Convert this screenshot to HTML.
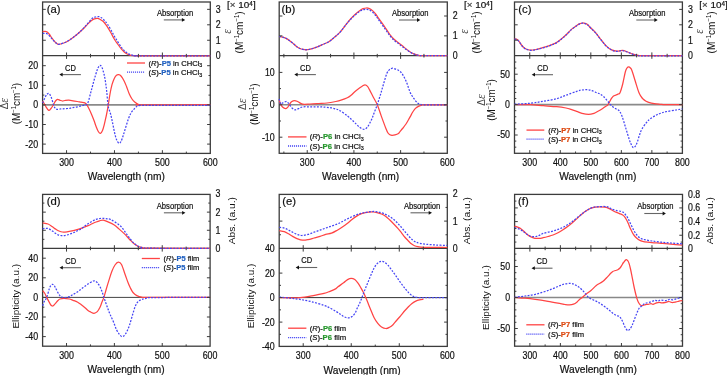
<!DOCTYPE html>
<html><head><meta charset="utf-8"><style>
html,body{margin:0;padding:0;background:#fff;}
svg{display:block;font-family:"Liberation Sans", sans-serif;will-change:transform;} text{stroke-width:0.2px;}
</style></head><body>
<svg width="727" height="375" viewBox="0 0 727 375">
<line x1="42.60" y1="104.90" x2="210.30" y2="104.90" stroke="#8a8a8a" stroke-width="1.60"/>
<rect x="42.60" y="2.00" width="167.70" height="151.40" fill="none" stroke="#3c3c3c" stroke-width="1.3"/>
<line x1="42.60" y1="55.70" x2="210.30" y2="55.70" stroke="#3c3c3c" stroke-width="1.3"/>
<path d="M42.70,31.70 C43.08,31.63 44.25,31.23 45.00,31.30 C45.75,31.37 46.45,31.57 47.20,32.10 C47.95,32.63 48.70,33.48 49.50,34.50 C50.30,35.52 51.17,37.07 52.00,38.20 C52.83,39.33 53.75,40.47 54.50,41.30 C55.25,42.13 55.80,42.68 56.50,43.20 C57.20,43.72 57.17,44.57 58.70,44.40 C60.23,44.23 63.65,43.10 65.70,42.20 C67.75,41.30 69.23,40.18 71.00,39.00 C72.77,37.82 74.52,36.55 76.30,35.10 C78.08,33.65 79.92,32.00 81.70,30.30 C83.48,28.60 85.42,26.50 87.00,24.90 C88.58,23.30 89.97,21.72 91.20,20.70 C92.43,19.68 93.33,19.20 94.40,18.80 C95.47,18.40 96.58,18.17 97.60,18.30 C98.62,18.43 99.65,19.15 100.50,19.60 C101.35,20.05 101.95,20.35 102.70,21.00 C103.45,21.65 104.22,22.52 105.00,23.50 C105.78,24.48 106.42,25.35 107.40,26.90 C108.38,28.45 109.73,30.75 110.90,32.80 C112.07,34.85 113.22,37.25 114.40,39.20 C115.58,41.15 116.82,42.83 118.00,44.50 C119.18,46.17 120.50,47.98 121.50,49.20 C122.50,50.42 123.22,51.08 124.00,51.80 C124.78,52.52 125.45,53.03 126.20,53.50 C126.95,53.97 127.72,54.30 128.50,54.60 C129.28,54.90 129.72,55.10 130.90,55.30 C132.08,55.50 134.08,55.72 135.60,55.80 C137.12,55.88 127.55,55.80 140.00,55.80 C152.45,55.80 198.58,55.80 210.30,55.80" fill="none" stroke="#ff4444" stroke-width="1.25" stroke-linejoin="round"/>
<path d="M42.70,33.50 C43.08,33.47 44.20,33.22 45.00,33.30 C45.80,33.38 46.67,33.47 47.50,34.00 C48.33,34.53 49.25,35.70 50.00,36.50 C50.75,37.30 51.25,37.95 52.00,38.80 C52.75,39.65 53.75,40.85 54.50,41.60 C55.25,42.35 55.80,42.83 56.50,43.30 C57.20,43.77 57.17,44.58 58.70,44.40 C60.23,44.22 63.65,43.10 65.70,42.20 C67.75,41.30 69.23,40.18 71.00,39.00 C72.77,37.82 74.52,36.58 76.30,35.10 C78.08,33.62 79.92,31.90 81.70,30.10 C83.48,28.30 85.23,26.27 87.00,24.30 C88.77,22.33 90.88,19.52 92.30,18.30 C93.72,17.08 94.43,17.28 95.50,17.00 C96.57,16.72 97.78,16.52 98.70,16.60 C99.62,16.68 100.33,17.15 101.00,17.50 C101.67,17.85 102.03,18.12 102.70,18.70 C103.37,19.28 104.22,20.12 105.00,21.00 C105.78,21.88 106.42,22.53 107.40,24.00 C108.38,25.47 109.73,27.75 110.90,29.80 C112.07,31.85 113.22,34.23 114.40,36.30 C115.58,38.37 116.82,40.33 118.00,42.20 C119.18,44.07 120.50,46.13 121.50,47.50 C122.50,48.87 123.22,49.60 124.00,50.40 C124.78,51.20 125.45,51.73 126.20,52.30 C126.95,52.87 127.72,53.38 128.50,53.80 C129.28,54.22 129.72,54.47 130.90,54.80 C132.08,55.13 134.08,55.63 135.60,55.80 C137.12,55.97 127.55,55.80 140.00,55.80 C152.45,55.80 198.58,55.80 210.30,55.80" fill="none" stroke="#4444f4" stroke-width="1.25" stroke-dasharray="1.9 1.4" stroke-linejoin="round"/>
<path d="M42.70,101.00 C43.17,101.83 44.50,104.43 45.50,106.00 C46.50,107.57 47.78,109.98 48.70,110.40 C49.62,110.82 50.23,109.42 51.00,108.50 C51.77,107.58 52.55,106.15 53.30,104.90 C54.05,103.65 54.78,101.92 55.50,101.00 C56.22,100.08 56.85,99.52 57.60,99.40 C58.35,99.28 59.20,100.03 60.00,100.30 C60.80,100.57 61.57,100.97 62.40,101.00 C63.23,101.03 63.93,100.63 65.00,100.50 C66.07,100.37 67.47,100.15 68.80,100.20 C70.13,100.25 71.58,100.58 73.00,100.80 C74.42,101.02 75.97,101.27 77.30,101.50 C78.63,101.73 79.75,101.97 81.00,102.20 C82.25,102.43 83.82,102.45 84.80,102.90 C85.78,103.35 86.20,103.92 86.90,104.90 C87.60,105.88 88.20,107.17 89.00,108.80 C89.80,110.43 90.87,112.75 91.70,114.70 C92.53,116.65 93.27,118.55 94.00,120.50 C94.73,122.45 95.38,124.57 96.10,126.40 C96.82,128.23 97.57,130.33 98.30,131.50 C99.03,132.67 99.80,133.57 100.50,133.40 C101.20,133.23 101.88,131.92 102.50,130.50 C103.12,129.08 103.62,127.15 104.20,124.90 C104.78,122.65 105.52,119.20 106.00,117.00 C106.48,114.80 106.72,113.72 107.10,111.70 C107.48,109.68 107.82,107.85 108.30,104.90 C108.78,101.95 109.38,97.37 110.00,94.00 C110.62,90.63 111.25,87.37 112.00,84.70 C112.75,82.03 113.75,79.58 114.50,78.00 C115.25,76.42 115.80,75.75 116.50,75.20 C117.20,74.65 117.95,74.57 118.70,74.70 C119.45,74.83 120.12,75.00 121.00,76.00 C121.88,77.00 123.08,78.95 124.00,80.70 C124.92,82.45 125.62,84.28 126.50,86.50 C127.38,88.72 128.38,91.92 129.30,94.00 C130.22,96.08 131.10,97.67 132.00,99.00 C132.90,100.33 133.58,101.07 134.70,102.00 C135.82,102.93 137.48,104.12 138.70,104.60 C139.92,105.08 130.07,104.90 142.00,104.90 C153.93,104.90 198.92,104.65 210.30,104.60" fill="none" stroke="#ff4444" stroke-width="1.25" stroke-linejoin="round"/>
<path d="M42.70,103.10 C43.08,102.17 44.28,98.98 45.00,97.50 C45.72,96.02 46.32,94.87 47.00,94.20 C47.68,93.53 48.38,92.95 49.10,93.50 C49.82,94.05 50.55,95.60 51.30,97.50 C52.05,99.40 52.93,103.07 53.60,104.90 C54.27,106.73 54.73,107.77 55.30,108.50 C55.87,109.23 56.22,109.22 57.00,109.30 C57.78,109.38 59.00,109.08 60.00,109.00 C61.00,108.92 61.72,108.88 63.00,108.80 C64.28,108.72 66.20,108.67 67.70,108.50 C69.20,108.33 70.40,108.07 72.00,107.80 C73.60,107.53 75.53,107.28 77.30,106.90 C79.07,106.52 81.18,105.83 82.60,105.50 C84.02,105.17 84.90,105.38 85.80,104.90 C86.70,104.42 87.18,104.63 88.00,102.60 C88.82,100.57 89.95,95.47 90.70,92.70 C91.45,89.93 91.83,88.45 92.50,86.00 C93.17,83.55 93.95,80.58 94.70,78.00 C95.45,75.42 96.37,72.33 97.00,70.50 C97.63,68.67 98.00,67.87 98.50,67.00 C99.00,66.13 99.45,65.30 100.00,65.30 C100.55,65.30 101.13,65.55 101.80,67.00 C102.47,68.45 103.38,71.50 104.00,74.00 C104.62,76.50 105.05,79.12 105.50,82.00 C105.95,84.88 106.28,87.48 106.70,91.30 C107.12,95.12 107.57,101.78 108.00,104.90 C108.43,108.02 108.83,108.37 109.30,110.00 C109.77,111.63 110.27,112.62 110.80,114.70 C111.33,116.78 111.88,119.57 112.50,122.50 C113.12,125.43 113.83,129.47 114.50,132.30 C115.17,135.13 115.77,137.67 116.50,139.50 C117.23,141.33 118.15,142.97 118.90,143.30 C119.65,143.63 120.27,142.85 121.00,141.50 C121.73,140.15 122.50,137.62 123.30,135.20 C124.10,132.78 124.95,129.70 125.80,127.00 C126.65,124.30 127.53,121.33 128.40,119.00 C129.27,116.67 130.02,114.70 131.00,113.00 C131.98,111.30 133.30,109.92 134.30,108.80 C135.30,107.68 136.05,106.88 137.00,106.30 C137.95,105.72 138.67,105.47 140.00,105.30 C141.33,105.13 133.28,105.30 145.00,105.30 C156.72,105.30 199.42,105.30 210.30,105.30" fill="none" stroke="#4444f4" stroke-width="1.25" stroke-dasharray="1.9 1.4" stroke-linejoin="round"/>
<line x1="66.56" y1="153.40" x2="66.56" y2="150.20" stroke="#3c3c3c" stroke-width="1.00"/>
<line x1="66.56" y1="55.70" x2="66.56" y2="52.50" stroke="#3c3c3c" stroke-width="1.00"/>
<line x1="66.56" y1="55.70" x2="66.56" y2="58.90" stroke="#3c3c3c" stroke-width="1.00"/>
<line x1="90.51" y1="153.40" x2="90.51" y2="151.60" stroke="#3c3c3c" stroke-width="1.00"/>
<line x1="90.51" y1="55.70" x2="90.51" y2="53.90" stroke="#3c3c3c" stroke-width="1.00"/>
<line x1="90.51" y1="55.70" x2="90.51" y2="57.50" stroke="#3c3c3c" stroke-width="1.00"/>
<line x1="114.47" y1="153.40" x2="114.47" y2="150.20" stroke="#3c3c3c" stroke-width="1.00"/>
<line x1="114.47" y1="55.70" x2="114.47" y2="52.50" stroke="#3c3c3c" stroke-width="1.00"/>
<line x1="114.47" y1="55.70" x2="114.47" y2="58.90" stroke="#3c3c3c" stroke-width="1.00"/>
<line x1="138.43" y1="153.40" x2="138.43" y2="151.60" stroke="#3c3c3c" stroke-width="1.00"/>
<line x1="138.43" y1="55.70" x2="138.43" y2="53.90" stroke="#3c3c3c" stroke-width="1.00"/>
<line x1="138.43" y1="55.70" x2="138.43" y2="57.50" stroke="#3c3c3c" stroke-width="1.00"/>
<line x1="162.39" y1="153.40" x2="162.39" y2="150.20" stroke="#3c3c3c" stroke-width="1.00"/>
<line x1="162.39" y1="55.70" x2="162.39" y2="52.50" stroke="#3c3c3c" stroke-width="1.00"/>
<line x1="162.39" y1="55.70" x2="162.39" y2="58.90" stroke="#3c3c3c" stroke-width="1.00"/>
<line x1="186.34" y1="153.40" x2="186.34" y2="151.60" stroke="#3c3c3c" stroke-width="1.00"/>
<line x1="186.34" y1="55.70" x2="186.34" y2="53.90" stroke="#3c3c3c" stroke-width="1.00"/>
<line x1="186.34" y1="55.70" x2="186.34" y2="57.50" stroke="#3c3c3c" stroke-width="1.00"/>
<text x="66.56" y="165.90" font-size="10.00" text-anchor="middle" fill="#111" stroke="#111" textLength="14.80" lengthAdjust="spacingAndGlyphs" >300</text>
<text x="114.47" y="165.90" font-size="10.00" text-anchor="middle" fill="#111" stroke="#111" textLength="14.80" lengthAdjust="spacingAndGlyphs" >400</text>
<text x="162.39" y="165.90" font-size="10.00" text-anchor="middle" fill="#111" stroke="#111" textLength="14.80" lengthAdjust="spacingAndGlyphs" >500</text>
<text x="210.30" y="165.90" font-size="10.00" text-anchor="middle" fill="#111" stroke="#111" textLength="14.80" lengthAdjust="spacingAndGlyphs" >600</text>
<line x1="42.60" y1="40.25" x2="45.80" y2="40.25" stroke="#3c3c3c" stroke-width="1.00"/>
<line x1="210.30" y1="40.25" x2="207.10" y2="40.25" stroke="#3c3c3c" stroke-width="1.00"/>
<line x1="42.60" y1="24.80" x2="45.80" y2="24.80" stroke="#3c3c3c" stroke-width="1.00"/>
<line x1="210.30" y1="24.80" x2="207.10" y2="24.80" stroke="#3c3c3c" stroke-width="1.00"/>
<line x1="42.60" y1="9.35" x2="45.80" y2="9.35" stroke="#3c3c3c" stroke-width="1.00"/>
<line x1="210.30" y1="9.35" x2="207.10" y2="9.35" stroke="#3c3c3c" stroke-width="1.00"/>
<text x="215.80" y="59.10" font-size="10.00" text-anchor="start" fill="#111" stroke="#111" textLength="4.90" lengthAdjust="spacingAndGlyphs" >0</text>
<text x="215.80" y="43.65" font-size="10.00" text-anchor="start" fill="#111" stroke="#111" textLength="4.90" lengthAdjust="spacingAndGlyphs" >1</text>
<text x="215.80" y="28.20" font-size="10.00" text-anchor="start" fill="#111" stroke="#111" textLength="4.90" lengthAdjust="spacingAndGlyphs" >2</text>
<text x="215.80" y="12.75" font-size="10.00" text-anchor="start" fill="#111" stroke="#111" textLength="4.90" lengthAdjust="spacingAndGlyphs" >3</text>
<line x1="42.60" y1="144.10" x2="45.80" y2="144.10" stroke="#3c3c3c" stroke-width="1.00"/>
<line x1="210.30" y1="144.10" x2="207.10" y2="144.10" stroke="#3c3c3c" stroke-width="1.00"/>
<line x1="42.60" y1="134.30" x2="44.40" y2="134.30" stroke="#3c3c3c" stroke-width="1.00"/>
<line x1="210.30" y1="134.30" x2="208.50" y2="134.30" stroke="#3c3c3c" stroke-width="1.00"/>
<line x1="42.60" y1="124.50" x2="45.80" y2="124.50" stroke="#3c3c3c" stroke-width="1.00"/>
<line x1="210.30" y1="124.50" x2="207.10" y2="124.50" stroke="#3c3c3c" stroke-width="1.00"/>
<line x1="42.60" y1="114.70" x2="44.40" y2="114.70" stroke="#3c3c3c" stroke-width="1.00"/>
<line x1="210.30" y1="114.70" x2="208.50" y2="114.70" stroke="#3c3c3c" stroke-width="1.00"/>
<line x1="42.60" y1="104.90" x2="45.80" y2="104.90" stroke="#3c3c3c" stroke-width="1.00"/>
<line x1="210.30" y1="104.90" x2="207.10" y2="104.90" stroke="#3c3c3c" stroke-width="1.00"/>
<line x1="42.60" y1="95.10" x2="44.40" y2="95.10" stroke="#3c3c3c" stroke-width="1.00"/>
<line x1="210.30" y1="95.10" x2="208.50" y2="95.10" stroke="#3c3c3c" stroke-width="1.00"/>
<line x1="42.60" y1="85.30" x2="45.80" y2="85.30" stroke="#3c3c3c" stroke-width="1.00"/>
<line x1="210.30" y1="85.30" x2="207.10" y2="85.30" stroke="#3c3c3c" stroke-width="1.00"/>
<line x1="42.60" y1="75.50" x2="44.40" y2="75.50" stroke="#3c3c3c" stroke-width="1.00"/>
<line x1="210.30" y1="75.50" x2="208.50" y2="75.50" stroke="#3c3c3c" stroke-width="1.00"/>
<line x1="42.60" y1="65.70" x2="45.80" y2="65.70" stroke="#3c3c3c" stroke-width="1.00"/>
<line x1="210.30" y1="65.70" x2="207.10" y2="65.70" stroke="#3c3c3c" stroke-width="1.00"/>
<text x="38.10" y="147.50" font-size="10.00" text-anchor="end" fill="#111" stroke="#111" textLength="12.80" lengthAdjust="spacingAndGlyphs" >-20</text>
<text x="38.10" y="127.90" font-size="10.00" text-anchor="end" fill="#111" stroke="#111" textLength="12.80" lengthAdjust="spacingAndGlyphs" >-10</text>
<text x="38.10" y="108.30" font-size="10.00" text-anchor="end" fill="#111" stroke="#111" textLength="4.90" lengthAdjust="spacingAndGlyphs" >0</text>
<text x="38.10" y="88.70" font-size="10.00" text-anchor="end" fill="#111" stroke="#111" textLength="9.80" lengthAdjust="spacingAndGlyphs" >10</text>
<text x="38.10" y="69.10" font-size="10.00" text-anchor="end" fill="#111" stroke="#111" textLength="9.80" lengthAdjust="spacingAndGlyphs" >20</text>
<text x="126.25" y="179.60" font-size="10.00" text-anchor="middle" fill="#111" stroke="#111" textLength="77.20" lengthAdjust="spacingAndGlyphs" >Wavelength (nm)</text>
<line x1="279.20" y1="104.80" x2="447.30" y2="104.80" stroke="#8a8a8a" stroke-width="1.60"/>
<rect x="279.20" y="2.00" width="168.10" height="151.30" fill="none" stroke="#3c3c3c" stroke-width="1.3"/>
<line x1="279.20" y1="55.70" x2="447.30" y2="55.70" stroke="#3c3c3c" stroke-width="1.3"/>
<path d="M279.20,36.50 C280.27,36.77 283.47,37.10 285.60,38.10 C287.73,39.10 289.87,40.88 292.00,42.50 C294.13,44.12 296.27,46.60 298.40,47.80 C300.53,49.00 302.87,49.47 304.80,49.70 C306.73,49.93 308.13,49.60 310.00,49.20 C311.87,48.80 314.00,48.03 316.00,47.30 C318.00,46.57 319.85,45.73 322.00,44.80 C324.15,43.87 326.90,42.90 328.90,41.70 C330.90,40.50 332.13,39.20 334.00,37.60 C335.87,36.00 338.27,34.07 340.10,32.10 C341.93,30.13 343.40,27.82 345.00,25.80 C346.60,23.78 348.12,21.80 349.70,20.00 C351.28,18.20 352.90,16.52 354.50,15.00 C356.10,13.48 357.88,11.95 359.30,10.90 C360.72,9.85 361.82,9.18 363.00,8.70 C364.18,8.22 365.32,8.02 366.40,8.00 C367.48,7.98 368.43,8.12 369.50,8.60 C370.57,9.08 371.72,9.92 372.80,10.90 C373.88,11.88 374.93,13.12 376.00,14.50 C377.07,15.88 377.70,17.07 379.20,19.20 C380.70,21.33 383.25,24.78 385.00,27.30 C386.75,29.82 388.15,32.27 389.70,34.30 C391.25,36.33 392.75,38.02 394.30,39.50 C395.85,40.98 397.43,41.95 399.00,43.20 C400.57,44.45 402.13,45.75 403.70,47.00 C405.27,48.25 406.85,49.62 408.40,50.70 C409.95,51.78 411.45,52.77 413.00,53.50 C414.55,54.23 416.13,54.73 417.70,55.10 C419.27,55.47 417.47,55.60 422.40,55.70 C427.33,55.80 443.15,55.70 447.30,55.70" fill="none" stroke="#ff4444" stroke-width="1.25" stroke-linejoin="round"/>
<path d="M279.20,36.50 C280.27,36.77 283.47,37.10 285.60,38.10 C287.73,39.10 289.87,40.88 292.00,42.50 C294.13,44.12 296.27,46.60 298.40,47.80 C300.53,49.00 302.87,49.47 304.80,49.70 C306.73,49.93 308.13,49.60 310.00,49.20 C311.87,48.80 314.00,48.03 316.00,47.30 C318.00,46.57 319.85,45.73 322.00,44.80 C324.15,43.87 326.90,42.90 328.90,41.70 C330.90,40.50 332.13,39.20 334.00,37.60 C335.87,36.00 338.27,34.07 340.10,32.10 C341.93,30.13 343.40,27.77 345.00,25.80 C346.60,23.83 348.12,22.02 349.70,20.30 C351.28,18.58 352.90,16.93 354.50,15.50 C356.10,14.07 357.88,12.65 359.30,11.70 C360.72,10.75 361.82,10.20 363.00,9.80 C364.18,9.40 365.32,9.27 366.40,9.30 C367.48,9.33 368.43,9.50 369.50,10.00 C370.57,10.50 371.72,11.30 372.80,12.30 C373.88,13.30 374.93,14.60 376.00,16.00 C377.07,17.40 377.70,18.57 379.20,20.70 C380.70,22.83 383.25,26.33 385.00,28.80 C386.75,31.27 388.15,33.55 389.70,35.50 C391.25,37.45 392.75,39.08 394.30,40.50 C395.85,41.92 397.43,42.82 399.00,44.00 C400.57,45.18 402.13,46.43 403.70,47.60 C405.27,48.77 406.85,49.98 408.40,51.00 C409.95,52.02 411.45,53.00 413.00,53.70 C414.55,54.40 416.13,54.87 417.70,55.20 C419.27,55.53 417.47,55.62 422.40,55.70 C427.33,55.78 443.15,55.70 447.30,55.70" fill="none" stroke="#4444f4" stroke-width="1.25" stroke-dasharray="1.9 1.4" stroke-linejoin="round"/>
<path d="M279.20,100.00 C279.43,100.67 280.05,102.83 280.60,104.00 C281.15,105.17 281.67,106.22 282.50,107.00 C283.33,107.78 284.77,108.62 285.60,108.70 C286.43,108.78 286.88,108.17 287.50,107.50 C288.12,106.83 288.63,105.65 289.30,104.70 C289.97,103.75 290.60,102.50 291.50,101.80 C292.40,101.10 293.62,100.50 294.70,100.50 C295.78,100.50 296.67,101.18 298.00,101.80 C299.33,102.42 300.70,103.83 302.70,104.20 C304.70,104.57 307.33,104.12 310.00,104.00 C312.67,103.88 315.87,103.67 318.70,103.50 C321.53,103.33 324.15,103.33 327.00,103.00 C329.85,102.67 333.47,101.97 335.80,101.50 C338.13,101.03 339.08,100.82 341.00,100.20 C342.92,99.58 345.63,98.62 347.30,97.80 C348.97,96.98 349.80,96.27 351.00,95.30 C352.20,94.33 353.08,93.22 354.50,92.00 C355.92,90.78 358.17,89.00 359.50,88.00 C360.83,87.00 361.58,86.53 362.50,86.00 C363.42,85.47 364.17,84.75 365.00,84.80 C365.83,84.85 366.73,85.45 367.50,86.30 C368.27,87.15 368.65,88.12 369.60,89.90 C370.55,91.68 371.92,94.52 373.20,97.00 C374.48,99.48 375.95,101.62 377.30,104.80 C378.65,107.98 379.90,112.25 381.30,116.10 C382.70,119.95 384.58,125.08 385.70,127.90 C386.82,130.72 387.28,131.85 388.00,133.00 C388.72,134.15 389.33,134.42 390.00,134.80 C390.67,135.18 391.17,135.28 392.00,135.30 C392.83,135.32 393.92,135.22 395.00,134.90 C396.08,134.58 397.67,133.95 398.50,133.40 C399.33,132.85 399.25,132.50 400.00,131.60 C400.75,130.70 402.00,129.27 403.00,128.00 C404.00,126.73 405.08,125.37 406.00,124.00 C406.92,122.63 407.70,121.20 408.50,119.80 C409.30,118.40 410.12,116.85 410.80,115.60 C411.48,114.35 412.00,113.30 412.60,112.30 C413.20,111.30 413.80,110.35 414.40,109.60 C415.00,108.85 415.60,108.30 416.20,107.80 C416.80,107.30 417.10,107.05 418.00,106.60 C418.90,106.15 420.27,105.40 421.60,105.10 C422.93,104.80 421.72,104.85 426.00,104.80 C430.28,104.75 443.75,104.80 447.30,104.80" fill="none" stroke="#ff4444" stroke-width="1.25" stroke-linejoin="round"/>
<path d="M279.20,98.90 C279.43,99.75 280.05,103.32 280.60,104.00 C281.15,104.68 281.58,103.42 282.50,103.00 C283.42,102.58 285.18,101.53 286.10,101.50 C287.02,101.47 287.43,102.27 288.00,102.80 C288.57,103.33 288.83,103.83 289.50,104.70 C290.17,105.57 291.05,107.15 292.00,108.00 C292.95,108.85 294.12,109.70 295.20,109.80 C296.28,109.90 297.25,109.08 298.50,108.60 C299.75,108.12 300.78,107.20 302.70,106.90 C304.62,106.60 307.45,106.82 310.00,106.80 C312.55,106.78 315.50,106.73 318.00,106.80 C320.50,106.87 322.83,107.03 325.00,107.20 C327.17,107.37 329.20,107.50 331.00,107.80 C332.80,108.10 334.30,108.52 335.80,109.00 C337.30,109.48 338.03,109.52 340.00,110.70 C341.97,111.88 345.60,114.55 347.60,116.10 C349.60,117.65 350.53,118.65 352.00,120.00 C353.47,121.35 355.07,122.95 356.40,124.20 C357.73,125.45 358.73,126.65 360.00,127.50 C361.27,128.35 362.83,129.30 364.00,129.30 C365.17,129.30 366.07,128.47 367.00,127.50 C367.93,126.53 368.77,125.00 369.60,123.50 C370.43,122.00 371.27,120.22 372.00,118.50 C372.73,116.78 373.13,115.48 374.00,113.20 C374.87,110.92 376.13,107.85 377.20,104.80 C378.27,101.75 379.38,98.23 380.40,94.90 C381.42,91.57 382.22,88.40 383.30,84.80 C384.38,81.20 385.95,75.73 386.90,73.30 C387.85,70.87 388.40,70.92 389.00,70.20 C389.60,69.48 389.88,69.33 390.50,69.00 C391.12,68.67 391.78,68.15 392.70,68.20 C393.62,68.25 395.03,68.95 396.00,69.30 C396.97,69.65 397.72,69.85 398.50,70.30 C399.28,70.75 400.00,71.27 400.70,72.00 C401.40,72.73 402.02,73.62 402.70,74.70 C403.38,75.78 404.13,77.17 404.80,78.50 C405.47,79.83 406.10,81.20 406.70,82.70 C407.30,84.20 407.85,85.95 408.40,87.50 C408.95,89.05 409.40,90.62 410.00,92.00 C410.60,93.38 411.33,94.68 412.00,95.80 C412.67,96.92 413.33,97.78 414.00,98.70 C414.67,99.62 415.33,100.53 416.00,101.30 C416.67,102.07 417.22,102.78 418.00,103.30 C418.78,103.82 419.70,104.15 420.70,104.40 C421.70,104.65 419.57,104.73 424.00,104.80 C428.43,104.87 443.42,104.80 447.30,104.80" fill="none" stroke="#4444f4" stroke-width="1.25" stroke-dasharray="1.9 1.4" stroke-linejoin="round"/>
<line x1="283.87" y1="153.30" x2="283.87" y2="151.50" stroke="#3c3c3c" stroke-width="1.00"/>
<line x1="283.87" y1="55.70" x2="283.87" y2="53.90" stroke="#3c3c3c" stroke-width="1.00"/>
<line x1="283.87" y1="55.70" x2="283.87" y2="57.50" stroke="#3c3c3c" stroke-width="1.00"/>
<line x1="307.22" y1="153.30" x2="307.22" y2="150.10" stroke="#3c3c3c" stroke-width="1.00"/>
<line x1="307.22" y1="55.70" x2="307.22" y2="52.50" stroke="#3c3c3c" stroke-width="1.00"/>
<line x1="307.22" y1="55.70" x2="307.22" y2="58.90" stroke="#3c3c3c" stroke-width="1.00"/>
<line x1="330.56" y1="153.30" x2="330.56" y2="151.50" stroke="#3c3c3c" stroke-width="1.00"/>
<line x1="330.56" y1="55.70" x2="330.56" y2="53.90" stroke="#3c3c3c" stroke-width="1.00"/>
<line x1="330.56" y1="55.70" x2="330.56" y2="57.50" stroke="#3c3c3c" stroke-width="1.00"/>
<line x1="353.91" y1="153.30" x2="353.91" y2="150.10" stroke="#3c3c3c" stroke-width="1.00"/>
<line x1="353.91" y1="55.70" x2="353.91" y2="52.50" stroke="#3c3c3c" stroke-width="1.00"/>
<line x1="353.91" y1="55.70" x2="353.91" y2="58.90" stroke="#3c3c3c" stroke-width="1.00"/>
<line x1="377.26" y1="153.30" x2="377.26" y2="151.50" stroke="#3c3c3c" stroke-width="1.00"/>
<line x1="377.26" y1="55.70" x2="377.26" y2="53.90" stroke="#3c3c3c" stroke-width="1.00"/>
<line x1="377.26" y1="55.70" x2="377.26" y2="57.50" stroke="#3c3c3c" stroke-width="1.00"/>
<line x1="400.61" y1="153.30" x2="400.61" y2="150.10" stroke="#3c3c3c" stroke-width="1.00"/>
<line x1="400.61" y1="55.70" x2="400.61" y2="52.50" stroke="#3c3c3c" stroke-width="1.00"/>
<line x1="400.61" y1="55.70" x2="400.61" y2="58.90" stroke="#3c3c3c" stroke-width="1.00"/>
<line x1="423.95" y1="153.30" x2="423.95" y2="151.50" stroke="#3c3c3c" stroke-width="1.00"/>
<line x1="423.95" y1="55.70" x2="423.95" y2="53.90" stroke="#3c3c3c" stroke-width="1.00"/>
<line x1="423.95" y1="55.70" x2="423.95" y2="57.50" stroke="#3c3c3c" stroke-width="1.00"/>
<text x="307.22" y="165.80" font-size="10.00" text-anchor="middle" fill="#111" stroke="#111" textLength="14.80" lengthAdjust="spacingAndGlyphs" >300</text>
<text x="353.91" y="165.80" font-size="10.00" text-anchor="middle" fill="#111" stroke="#111" textLength="14.80" lengthAdjust="spacingAndGlyphs" >400</text>
<text x="400.61" y="165.80" font-size="10.00" text-anchor="middle" fill="#111" stroke="#111" textLength="14.80" lengthAdjust="spacingAndGlyphs" >500</text>
<text x="447.30" y="165.80" font-size="10.00" text-anchor="middle" fill="#111" stroke="#111" textLength="14.80" lengthAdjust="spacingAndGlyphs" >600</text>
<line x1="279.20" y1="35.85" x2="282.40" y2="35.85" stroke="#3c3c3c" stroke-width="1.00"/>
<line x1="447.30" y1="35.85" x2="444.10" y2="35.85" stroke="#3c3c3c" stroke-width="1.00"/>
<line x1="279.20" y1="16.00" x2="282.40" y2="16.00" stroke="#3c3c3c" stroke-width="1.00"/>
<line x1="447.30" y1="16.00" x2="444.10" y2="16.00" stroke="#3c3c3c" stroke-width="1.00"/>
<text x="452.80" y="59.10" font-size="10.00" text-anchor="start" fill="#111" stroke="#111" textLength="4.90" lengthAdjust="spacingAndGlyphs" >0</text>
<text x="452.80" y="39.25" font-size="10.00" text-anchor="start" fill="#111" stroke="#111" textLength="4.90" lengthAdjust="spacingAndGlyphs" >1</text>
<text x="452.80" y="19.40" font-size="10.00" text-anchor="start" fill="#111" stroke="#111" textLength="4.90" lengthAdjust="spacingAndGlyphs" >2</text>
<line x1="279.20" y1="137.20" x2="282.40" y2="137.20" stroke="#3c3c3c" stroke-width="1.00"/>
<line x1="447.30" y1="137.20" x2="444.10" y2="137.20" stroke="#3c3c3c" stroke-width="1.00"/>
<line x1="279.20" y1="121.00" x2="281.00" y2="121.00" stroke="#3c3c3c" stroke-width="1.00"/>
<line x1="447.30" y1="121.00" x2="445.50" y2="121.00" stroke="#3c3c3c" stroke-width="1.00"/>
<line x1="279.20" y1="104.80" x2="282.40" y2="104.80" stroke="#3c3c3c" stroke-width="1.00"/>
<line x1="447.30" y1="104.80" x2="444.10" y2="104.80" stroke="#3c3c3c" stroke-width="1.00"/>
<line x1="279.20" y1="88.60" x2="281.00" y2="88.60" stroke="#3c3c3c" stroke-width="1.00"/>
<line x1="447.30" y1="88.60" x2="445.50" y2="88.60" stroke="#3c3c3c" stroke-width="1.00"/>
<line x1="279.20" y1="72.40" x2="282.40" y2="72.40" stroke="#3c3c3c" stroke-width="1.00"/>
<line x1="447.30" y1="72.40" x2="444.10" y2="72.40" stroke="#3c3c3c" stroke-width="1.00"/>
<text x="274.70" y="140.60" font-size="10.00" text-anchor="end" fill="#111" stroke="#111" textLength="12.80" lengthAdjust="spacingAndGlyphs" >-10</text>
<text x="274.70" y="108.20" font-size="10.00" text-anchor="end" fill="#111" stroke="#111" textLength="4.90" lengthAdjust="spacingAndGlyphs" >0</text>
<text x="274.70" y="75.80" font-size="10.00" text-anchor="end" fill="#111" stroke="#111" textLength="9.80" lengthAdjust="spacingAndGlyphs" >10</text>
<text x="360.65" y="179.50" font-size="10.00" text-anchor="middle" fill="#111" stroke="#111" textLength="77.20" lengthAdjust="spacingAndGlyphs" >Wavelength (nm)</text>
<line x1="514.50" y1="104.60" x2="682.40" y2="104.60" stroke="#8a8a8a" stroke-width="1.60"/>
<rect x="514.50" y="2.00" width="167.90" height="151.30" fill="none" stroke="#3c3c3c" stroke-width="1.3"/>
<line x1="514.50" y1="55.60" x2="682.40" y2="55.60" stroke="#3c3c3c" stroke-width="1.3"/>
<path d="M514.60,38.80 C515.03,38.92 516.38,38.97 517.20,39.50 C518.02,40.03 518.78,41.08 519.50,42.00 C520.22,42.92 520.83,44.12 521.50,45.00 C522.17,45.88 522.75,46.63 523.50,47.30 C524.25,47.97 524.87,48.53 526.00,49.00 C527.13,49.47 528.63,50.02 530.30,50.10 C531.97,50.18 534.05,49.87 536.00,49.50 C537.95,49.13 540.00,48.45 542.00,47.90 C544.00,47.35 546.23,46.80 548.00,46.20 C549.77,45.60 551.27,44.85 552.60,44.30 C553.93,43.75 554.55,43.78 556.00,42.90 C557.45,42.02 559.52,40.45 561.30,39.00 C563.08,37.55 564.92,35.88 566.70,34.20 C568.48,32.52 570.23,30.42 572.00,28.90 C573.77,27.38 575.97,25.98 577.30,25.10 C578.63,24.22 579.12,23.95 580.00,23.60 C580.88,23.25 581.77,23.03 582.60,23.00 C583.43,22.97 584.18,23.13 585.00,23.40 C585.82,23.67 586.62,23.92 587.50,24.60 C588.38,25.28 588.93,26.13 590.30,27.50 C591.67,28.87 593.92,30.77 595.70,32.80 C597.48,34.83 599.22,37.48 601.00,39.70 C602.78,41.92 604.62,44.40 606.40,46.10 C608.18,47.80 609.93,49.05 611.70,49.90 C613.47,50.75 615.22,51.12 617.00,51.20 C618.78,51.28 620.62,50.27 622.40,50.40 C624.18,50.53 625.93,51.38 627.70,52.00 C629.47,52.62 631.22,53.55 633.00,54.10 C634.78,54.65 636.73,55.05 638.40,55.30 C640.07,55.55 635.67,55.55 643.00,55.60 C650.33,55.65 675.83,55.60 682.40,55.60" fill="none" stroke="#ff4444" stroke-width="1.25" stroke-linejoin="round"/>
<path d="M514.60,39.00 C515.03,39.12 516.38,39.17 517.20,39.70 C518.02,40.23 518.78,41.28 519.50,42.20 C520.22,43.12 520.83,44.32 521.50,45.20 C522.17,46.08 522.75,46.83 523.50,47.50 C524.25,48.17 524.87,48.73 526.00,49.20 C527.13,49.67 528.63,50.22 530.30,50.30 C531.97,50.38 534.05,50.07 536.00,49.70 C537.95,49.33 540.00,48.65 542.00,48.10 C544.00,47.55 546.23,47.00 548.00,46.40 C549.77,45.80 551.27,45.05 552.60,44.50 C553.93,43.95 554.55,43.98 556.00,43.10 C557.45,42.22 559.52,40.65 561.30,39.20 C563.08,37.75 564.92,36.08 566.70,34.40 C568.48,32.72 570.23,30.62 572.00,29.10 C573.77,27.58 575.97,26.18 577.30,25.30 C578.63,24.42 579.12,24.15 580.00,23.80 C580.88,23.45 581.77,23.23 582.60,23.20 C583.43,23.17 584.18,23.33 585.00,23.60 C585.82,23.87 586.62,24.12 587.50,24.80 C588.38,25.48 588.93,26.33 590.30,27.70 C591.67,29.07 593.92,30.97 595.70,33.00 C597.48,35.03 599.22,37.68 601.00,39.90 C602.78,42.12 604.62,44.60 606.40,46.30 C608.18,48.00 609.93,49.25 611.70,50.10 C613.47,50.95 615.22,51.32 617.00,51.40 C618.78,51.48 620.62,50.47 622.40,50.60 C624.18,50.73 625.93,51.58 627.70,52.20 C629.47,52.82 631.22,53.75 633.00,54.30 C634.78,54.85 636.73,55.25 638.40,55.50 C640.07,55.75 635.67,55.75 643.00,55.80 C650.33,55.85 675.83,55.80 682.40,55.80" fill="none" stroke="#4444f4" stroke-width="1.25" stroke-dasharray="1.9 1.4" stroke-linejoin="round"/>
<path d="M514.60,104.50 C517.17,104.53 525.22,104.50 530.00,104.70 C534.78,104.90 538.85,105.37 543.30,105.70 C547.75,106.03 552.92,106.32 556.70,106.70 C560.48,107.08 563.62,107.57 566.00,108.00 C568.38,108.43 569.22,108.75 571.00,109.30 C572.78,109.85 574.87,110.63 576.70,111.30 C578.53,111.97 580.00,112.78 582.00,113.30 C584.00,113.82 586.70,114.40 588.70,114.40 C590.70,114.40 592.45,113.82 594.00,113.30 C595.55,112.78 596.55,112.10 598.00,111.30 C599.45,110.50 601.45,109.30 602.70,108.50 C603.95,107.70 604.62,107.13 605.50,106.50 C606.38,105.87 607.03,106.00 608.00,104.70 C608.97,103.40 610.38,100.15 611.30,98.70 C612.22,97.25 612.72,96.62 613.50,96.00 C614.28,95.38 615.22,95.33 616.00,95.00 C616.78,94.67 617.53,94.38 618.20,94.00 C618.87,93.62 619.25,94.37 620.00,92.70 C620.75,91.03 621.82,87.45 622.70,84.00 C623.58,80.55 624.58,74.67 625.30,72.00 C626.02,69.33 626.43,68.85 627.00,68.00 C627.57,67.15 628.13,66.90 628.70,66.90 C629.27,66.90 629.85,67.37 630.40,68.00 C630.95,68.63 631.18,68.48 632.00,70.70 C632.82,72.92 634.18,77.75 635.30,81.30 C636.42,84.85 637.75,89.48 638.70,92.00 C639.65,94.52 640.23,95.18 641.00,96.40 C641.77,97.62 642.47,98.50 643.30,99.30 C644.13,100.10 645.10,100.68 646.00,101.20 C646.90,101.72 647.32,101.98 648.70,102.40 C650.08,102.82 652.42,103.38 654.30,103.70 C656.18,104.02 658.05,104.13 660.00,104.30 C661.95,104.47 662.27,104.63 666.00,104.70 C669.73,104.77 679.67,104.70 682.40,104.70" fill="none" stroke="#ff4444" stroke-width="1.25" stroke-linejoin="round"/>
<path d="M514.60,104.20 C517.17,104.05 525.22,103.78 530.00,103.30 C534.78,102.82 538.85,102.07 543.30,101.30 C547.75,100.53 552.92,99.70 556.70,98.70 C560.48,97.70 562.67,96.53 566.00,95.30 C569.33,94.07 574.03,92.18 576.70,91.30 C579.37,90.42 580.12,90.27 582.00,90.00 C583.88,89.73 586.33,89.58 588.00,89.70 C589.67,89.82 590.55,90.20 592.00,90.70 C593.45,91.20 595.37,92.15 596.70,92.70 C598.03,93.25 598.90,93.40 600.00,94.00 C601.10,94.60 602.08,95.18 603.30,96.30 C604.52,97.42 606.13,99.35 607.30,100.70 C608.47,102.05 609.43,103.43 610.30,104.40 C611.17,105.37 611.77,105.88 612.50,106.50 C613.23,107.12 613.95,107.58 614.70,108.10 C615.45,108.62 616.27,109.18 617.00,109.60 C617.73,110.02 618.27,109.52 619.10,110.60 C619.93,111.68 620.90,113.22 622.00,116.10 C623.10,118.98 624.48,123.98 625.70,127.90 C626.92,131.82 628.33,136.75 629.30,139.60 C630.27,142.45 630.82,143.65 631.50,145.00 C632.18,146.35 632.73,147.53 633.40,147.70 C634.07,147.87 634.83,146.98 635.50,146.00 C636.17,145.02 636.73,143.63 637.40,141.80 C638.07,139.97 638.77,137.08 639.50,135.00 C640.23,132.92 640.57,131.47 641.80,129.30 C643.03,127.13 645.53,123.72 646.90,122.00 C648.27,120.28 648.53,120.10 650.00,119.00 C651.47,117.90 654.03,116.32 655.70,115.40 C657.37,114.48 658.28,114.12 660.00,113.50 C661.72,112.88 663.30,112.28 666.00,111.70 C668.70,111.12 673.47,110.48 676.20,110.00 C678.93,109.52 681.37,109.00 682.40,108.80" fill="none" stroke="#4444f4" stroke-width="1.25" stroke-dasharray="1.9 1.4" stroke-linejoin="round"/>
<line x1="529.76" y1="153.30" x2="529.76" y2="150.10" stroke="#3c3c3c" stroke-width="1.00"/>
<line x1="529.76" y1="55.60" x2="529.76" y2="52.40" stroke="#3c3c3c" stroke-width="1.00"/>
<line x1="529.76" y1="55.60" x2="529.76" y2="58.80" stroke="#3c3c3c" stroke-width="1.00"/>
<line x1="545.03" y1="153.30" x2="545.03" y2="151.50" stroke="#3c3c3c" stroke-width="1.00"/>
<line x1="545.03" y1="55.60" x2="545.03" y2="53.80" stroke="#3c3c3c" stroke-width="1.00"/>
<line x1="545.03" y1="55.60" x2="545.03" y2="57.40" stroke="#3c3c3c" stroke-width="1.00"/>
<line x1="560.29" y1="153.30" x2="560.29" y2="150.10" stroke="#3c3c3c" stroke-width="1.00"/>
<line x1="560.29" y1="55.60" x2="560.29" y2="52.40" stroke="#3c3c3c" stroke-width="1.00"/>
<line x1="560.29" y1="55.60" x2="560.29" y2="58.80" stroke="#3c3c3c" stroke-width="1.00"/>
<line x1="575.55" y1="153.30" x2="575.55" y2="151.50" stroke="#3c3c3c" stroke-width="1.00"/>
<line x1="575.55" y1="55.60" x2="575.55" y2="53.80" stroke="#3c3c3c" stroke-width="1.00"/>
<line x1="575.55" y1="55.60" x2="575.55" y2="57.40" stroke="#3c3c3c" stroke-width="1.00"/>
<line x1="590.82" y1="153.30" x2="590.82" y2="150.10" stroke="#3c3c3c" stroke-width="1.00"/>
<line x1="590.82" y1="55.60" x2="590.82" y2="52.40" stroke="#3c3c3c" stroke-width="1.00"/>
<line x1="590.82" y1="55.60" x2="590.82" y2="58.80" stroke="#3c3c3c" stroke-width="1.00"/>
<line x1="606.08" y1="153.30" x2="606.08" y2="151.50" stroke="#3c3c3c" stroke-width="1.00"/>
<line x1="606.08" y1="55.60" x2="606.08" y2="53.80" stroke="#3c3c3c" stroke-width="1.00"/>
<line x1="606.08" y1="55.60" x2="606.08" y2="57.40" stroke="#3c3c3c" stroke-width="1.00"/>
<line x1="621.35" y1="153.30" x2="621.35" y2="150.10" stroke="#3c3c3c" stroke-width="1.00"/>
<line x1="621.35" y1="55.60" x2="621.35" y2="52.40" stroke="#3c3c3c" stroke-width="1.00"/>
<line x1="621.35" y1="55.60" x2="621.35" y2="58.80" stroke="#3c3c3c" stroke-width="1.00"/>
<line x1="636.61" y1="153.30" x2="636.61" y2="151.50" stroke="#3c3c3c" stroke-width="1.00"/>
<line x1="636.61" y1="55.60" x2="636.61" y2="53.80" stroke="#3c3c3c" stroke-width="1.00"/>
<line x1="636.61" y1="55.60" x2="636.61" y2="57.40" stroke="#3c3c3c" stroke-width="1.00"/>
<line x1="651.87" y1="153.30" x2="651.87" y2="150.10" stroke="#3c3c3c" stroke-width="1.00"/>
<line x1="651.87" y1="55.60" x2="651.87" y2="52.40" stroke="#3c3c3c" stroke-width="1.00"/>
<line x1="651.87" y1="55.60" x2="651.87" y2="58.80" stroke="#3c3c3c" stroke-width="1.00"/>
<line x1="667.14" y1="153.30" x2="667.14" y2="151.50" stroke="#3c3c3c" stroke-width="1.00"/>
<line x1="667.14" y1="55.60" x2="667.14" y2="53.80" stroke="#3c3c3c" stroke-width="1.00"/>
<line x1="667.14" y1="55.60" x2="667.14" y2="57.40" stroke="#3c3c3c" stroke-width="1.00"/>
<text x="529.76" y="165.80" font-size="10.00" text-anchor="middle" fill="#111" stroke="#111" textLength="14.80" lengthAdjust="spacingAndGlyphs" >300</text>
<text x="560.29" y="165.80" font-size="10.00" text-anchor="middle" fill="#111" stroke="#111" textLength="14.80" lengthAdjust="spacingAndGlyphs" >400</text>
<text x="590.82" y="165.80" font-size="10.00" text-anchor="middle" fill="#111" stroke="#111" textLength="14.80" lengthAdjust="spacingAndGlyphs" >500</text>
<text x="621.35" y="165.80" font-size="10.00" text-anchor="middle" fill="#111" stroke="#111" textLength="14.80" lengthAdjust="spacingAndGlyphs" >600</text>
<text x="651.87" y="165.80" font-size="10.00" text-anchor="middle" fill="#111" stroke="#111" textLength="14.80" lengthAdjust="spacingAndGlyphs" >700</text>
<text x="682.40" y="165.80" font-size="10.00" text-anchor="middle" fill="#111" stroke="#111" textLength="14.80" lengthAdjust="spacingAndGlyphs" >800</text>
<line x1="514.50" y1="40.20" x2="517.70" y2="40.20" stroke="#3c3c3c" stroke-width="1.00"/>
<line x1="682.40" y1="40.20" x2="679.20" y2="40.20" stroke="#3c3c3c" stroke-width="1.00"/>
<line x1="514.50" y1="24.80" x2="517.70" y2="24.80" stroke="#3c3c3c" stroke-width="1.00"/>
<line x1="682.40" y1="24.80" x2="679.20" y2="24.80" stroke="#3c3c3c" stroke-width="1.00"/>
<line x1="514.50" y1="9.40" x2="517.70" y2="9.40" stroke="#3c3c3c" stroke-width="1.00"/>
<line x1="682.40" y1="9.40" x2="679.20" y2="9.40" stroke="#3c3c3c" stroke-width="1.00"/>
<text x="687.90" y="59.00" font-size="10.00" text-anchor="start" fill="#111" stroke="#111" textLength="4.90" lengthAdjust="spacingAndGlyphs" >0</text>
<text x="687.90" y="43.60" font-size="10.00" text-anchor="start" fill="#111" stroke="#111" textLength="4.90" lengthAdjust="spacingAndGlyphs" >1</text>
<text x="687.90" y="28.20" font-size="10.00" text-anchor="start" fill="#111" stroke="#111" textLength="4.90" lengthAdjust="spacingAndGlyphs" >2</text>
<text x="687.90" y="12.80" font-size="10.00" text-anchor="start" fill="#111" stroke="#111" textLength="4.90" lengthAdjust="spacingAndGlyphs" >3</text>
<line x1="514.50" y1="147.16" x2="516.30" y2="147.16" stroke="#3c3c3c" stroke-width="1.00"/>
<line x1="682.40" y1="147.16" x2="680.60" y2="147.16" stroke="#3c3c3c" stroke-width="1.00"/>
<line x1="514.50" y1="141.08" x2="516.30" y2="141.08" stroke="#3c3c3c" stroke-width="1.00"/>
<line x1="682.40" y1="141.08" x2="680.60" y2="141.08" stroke="#3c3c3c" stroke-width="1.00"/>
<line x1="514.50" y1="135.00" x2="517.70" y2="135.00" stroke="#3c3c3c" stroke-width="1.00"/>
<line x1="682.40" y1="135.00" x2="679.20" y2="135.00" stroke="#3c3c3c" stroke-width="1.00"/>
<line x1="514.50" y1="128.92" x2="516.30" y2="128.92" stroke="#3c3c3c" stroke-width="1.00"/>
<line x1="682.40" y1="128.92" x2="680.60" y2="128.92" stroke="#3c3c3c" stroke-width="1.00"/>
<line x1="514.50" y1="122.84" x2="516.30" y2="122.84" stroke="#3c3c3c" stroke-width="1.00"/>
<line x1="682.40" y1="122.84" x2="680.60" y2="122.84" stroke="#3c3c3c" stroke-width="1.00"/>
<line x1="514.50" y1="116.76" x2="516.30" y2="116.76" stroke="#3c3c3c" stroke-width="1.00"/>
<line x1="682.40" y1="116.76" x2="680.60" y2="116.76" stroke="#3c3c3c" stroke-width="1.00"/>
<line x1="514.50" y1="110.68" x2="516.30" y2="110.68" stroke="#3c3c3c" stroke-width="1.00"/>
<line x1="682.40" y1="110.68" x2="680.60" y2="110.68" stroke="#3c3c3c" stroke-width="1.00"/>
<line x1="514.50" y1="104.60" x2="517.70" y2="104.60" stroke="#3c3c3c" stroke-width="1.00"/>
<line x1="682.40" y1="104.60" x2="679.20" y2="104.60" stroke="#3c3c3c" stroke-width="1.00"/>
<line x1="514.50" y1="98.52" x2="516.30" y2="98.52" stroke="#3c3c3c" stroke-width="1.00"/>
<line x1="682.40" y1="98.52" x2="680.60" y2="98.52" stroke="#3c3c3c" stroke-width="1.00"/>
<line x1="514.50" y1="92.44" x2="516.30" y2="92.44" stroke="#3c3c3c" stroke-width="1.00"/>
<line x1="682.40" y1="92.44" x2="680.60" y2="92.44" stroke="#3c3c3c" stroke-width="1.00"/>
<line x1="514.50" y1="86.36" x2="516.30" y2="86.36" stroke="#3c3c3c" stroke-width="1.00"/>
<line x1="682.40" y1="86.36" x2="680.60" y2="86.36" stroke="#3c3c3c" stroke-width="1.00"/>
<line x1="514.50" y1="80.28" x2="516.30" y2="80.28" stroke="#3c3c3c" stroke-width="1.00"/>
<line x1="682.40" y1="80.28" x2="680.60" y2="80.28" stroke="#3c3c3c" stroke-width="1.00"/>
<line x1="514.50" y1="74.20" x2="517.70" y2="74.20" stroke="#3c3c3c" stroke-width="1.00"/>
<line x1="682.40" y1="74.20" x2="679.20" y2="74.20" stroke="#3c3c3c" stroke-width="1.00"/>
<line x1="514.50" y1="68.12" x2="516.30" y2="68.12" stroke="#3c3c3c" stroke-width="1.00"/>
<line x1="682.40" y1="68.12" x2="680.60" y2="68.12" stroke="#3c3c3c" stroke-width="1.00"/>
<line x1="514.50" y1="62.04" x2="516.30" y2="62.04" stroke="#3c3c3c" stroke-width="1.00"/>
<line x1="682.40" y1="62.04" x2="680.60" y2="62.04" stroke="#3c3c3c" stroke-width="1.00"/>
<text x="510.00" y="138.40" font-size="10.00" text-anchor="end" fill="#111" stroke="#111" textLength="12.80" lengthAdjust="spacingAndGlyphs" >-50</text>
<text x="510.00" y="108.00" font-size="10.00" text-anchor="end" fill="#111" stroke="#111" textLength="4.90" lengthAdjust="spacingAndGlyphs" >0</text>
<text x="510.00" y="77.60" font-size="10.00" text-anchor="end" fill="#111" stroke="#111" textLength="9.80" lengthAdjust="spacingAndGlyphs" >50</text>
<text x="597.75" y="179.50" font-size="10.00" text-anchor="middle" fill="#111" stroke="#111" textLength="77.20" lengthAdjust="spacingAndGlyphs" >Wavelength (nm)</text>
<line x1="42.60" y1="297.40" x2="210.10" y2="297.40" stroke="#444" stroke-width="1.00"/>
<rect x="42.60" y="194.40" width="167.50" height="151.80" fill="none" stroke="#3c3c3c" stroke-width="1.3"/>
<line x1="42.60" y1="248.40" x2="210.10" y2="248.40" stroke="#3c3c3c" stroke-width="1.3"/>
<path d="M42.70,222.90 C43.58,223.08 46.45,223.40 48.00,224.00 C49.55,224.60 50.67,225.62 52.00,226.50 C53.33,227.38 54.83,228.55 56.00,229.30 C57.17,230.05 57.93,230.55 59.00,231.00 C60.07,231.45 61.07,231.87 62.40,232.00 C63.73,232.13 65.40,231.98 67.00,231.80 C68.60,231.62 70.33,231.27 72.00,230.90 C73.67,230.53 75.38,230.07 77.00,229.60 C78.62,229.13 79.85,228.77 81.70,228.10 C83.55,227.43 86.38,226.32 88.10,225.60 C89.82,224.88 90.67,224.40 92.00,223.80 C93.33,223.20 94.85,222.50 96.10,222.00 C97.35,221.50 98.30,221.12 99.50,220.80 C100.70,220.48 101.80,219.88 103.30,220.10 C104.80,220.32 106.73,221.32 108.50,222.10 C110.27,222.88 112.12,223.63 113.90,224.80 C115.68,225.97 117.43,227.58 119.20,229.10 C120.97,230.62 122.72,232.13 124.50,233.90 C126.28,235.67 128.30,238.05 129.90,239.70 C131.50,241.35 132.68,242.67 134.10,243.80 C135.52,244.93 136.98,245.85 138.40,246.50 C139.82,247.15 141.17,247.42 142.60,247.70 C144.03,247.98 135.75,248.10 147.00,248.20 C158.25,248.30 199.58,248.28 210.10,248.30" fill="none" stroke="#ff4444" stroke-width="1.25" stroke-linejoin="round"/>
<path d="M42.70,228.80 C43.08,228.72 44.12,228.35 45.00,228.30 C45.88,228.25 47.00,228.22 48.00,228.50 C49.00,228.78 49.93,229.33 51.00,230.00 C52.07,230.67 53.23,231.70 54.40,232.50 C55.57,233.30 56.67,234.27 58.00,234.80 C59.33,235.33 60.90,235.67 62.40,235.70 C63.90,235.73 65.40,235.40 67.00,235.00 C68.60,234.60 70.33,233.97 72.00,233.30 C73.67,232.63 75.38,231.80 77.00,231.00 C78.62,230.20 80.37,229.37 81.70,228.50 C83.03,227.63 83.93,226.60 85.00,225.80 C86.07,225.00 86.93,224.45 88.10,223.70 C89.27,222.95 90.67,222.03 92.00,221.30 C93.33,220.57 94.77,219.77 96.10,219.30 C97.43,218.83 98.67,218.65 100.00,218.50 C101.33,218.35 102.85,218.35 104.10,218.40 C105.35,218.45 106.40,218.62 107.50,218.80 C108.60,218.98 109.28,218.85 110.70,219.50 C112.12,220.15 114.23,221.47 116.00,222.70 C117.77,223.93 119.70,225.25 121.30,226.90 C122.90,228.55 124.17,230.65 125.60,232.60 C127.03,234.55 128.48,236.82 129.90,238.60 C131.32,240.38 132.68,242.00 134.10,243.30 C135.52,244.60 136.98,245.68 138.40,246.40 C139.82,247.12 141.17,247.30 142.60,247.60 C144.03,247.90 135.75,248.08 147.00,248.20 C158.25,248.32 199.58,248.28 210.10,248.30" fill="none" stroke="#4444f4" stroke-width="1.25" stroke-dasharray="1.9 1.4" stroke-linejoin="round"/>
<path d="M42.70,290.70 C43.03,291.13 44.03,292.18 44.70,293.30 C45.37,294.42 45.93,295.90 46.70,297.40 C47.47,298.90 48.62,301.03 49.30,302.30 C49.98,303.57 50.30,304.38 50.80,305.00 C51.30,305.62 51.80,305.95 52.30,306.00 C52.80,306.05 53.27,305.75 53.80,305.30 C54.33,304.85 54.80,304.10 55.50,303.30 C56.20,302.50 57.25,301.22 58.00,300.50 C58.75,299.78 59.00,299.37 60.00,299.00 C61.00,298.63 62.45,298.30 64.00,298.30 C65.55,298.30 67.80,298.67 69.30,299.00 C70.80,299.33 71.67,299.80 73.00,300.30 C74.33,300.80 75.97,301.30 77.30,302.00 C78.63,302.70 79.67,303.50 81.00,304.50 C82.33,305.50 84.13,307.00 85.30,308.00 C86.47,309.00 87.10,309.83 88.00,310.50 C88.90,311.17 89.70,311.53 90.70,312.00 C91.70,312.47 92.90,313.37 94.00,313.30 C95.10,313.23 96.30,312.60 97.30,311.60 C98.30,310.60 99.22,308.90 100.00,307.30 C100.78,305.70 101.35,303.65 102.00,302.00 C102.65,300.35 103.23,299.40 103.90,297.40 C104.57,295.40 105.17,292.83 106.00,290.00 C106.83,287.17 107.90,283.57 108.90,280.40 C109.90,277.23 110.98,273.57 112.00,271.00 C113.02,268.43 113.95,266.47 115.00,265.00 C116.05,263.53 117.22,262.28 118.30,262.20 C119.38,262.12 120.32,262.32 121.50,264.50 C122.68,266.68 124.32,272.30 125.40,275.30 C126.48,278.30 127.17,280.38 128.00,282.50 C128.83,284.62 129.57,286.33 130.40,288.00 C131.23,289.67 131.93,291.23 133.00,292.50 C134.07,293.77 135.33,294.82 136.80,295.60 C138.27,296.38 139.60,296.90 141.80,297.20 C144.00,297.50 138.62,297.37 150.00,297.40 C161.38,297.43 200.08,297.40 210.10,297.40" fill="none" stroke="#ff4444" stroke-width="1.25" stroke-linejoin="round"/>
<path d="M42.70,305.70 C42.92,305.08 43.33,303.38 44.00,302.00 C44.67,300.62 45.82,299.60 46.70,297.40 C47.58,295.20 48.62,290.77 49.30,288.80 C49.98,286.83 50.30,286.35 50.80,285.60 C51.30,284.85 51.80,284.40 52.30,284.30 C52.80,284.20 53.30,284.47 53.80,285.00 C54.30,285.53 54.48,286.00 55.30,287.50 C56.12,289.00 57.75,292.50 58.70,294.00 C59.65,295.50 60.12,295.90 61.00,296.50 C61.88,297.10 62.62,297.57 64.00,297.60 C65.38,297.63 67.80,297.22 69.30,296.70 C70.80,296.18 71.67,295.28 73.00,294.50 C74.33,293.72 75.97,292.88 77.30,292.00 C78.63,291.12 79.67,290.20 81.00,289.20 C82.33,288.20 83.97,286.98 85.30,286.00 C86.63,285.02 87.67,284.13 89.00,283.30 C90.33,282.47 92.22,281.33 93.30,281.00 C94.38,280.67 94.83,281.02 95.50,281.30 C96.17,281.58 96.55,281.80 97.30,282.70 C98.05,283.60 99.22,285.23 100.00,286.70 C100.78,288.17 101.35,289.72 102.00,291.50 C102.65,293.28 103.23,295.40 103.90,297.40 C104.57,299.40 105.32,301.57 106.00,303.50 C106.68,305.43 107.30,307.15 108.00,309.00 C108.70,310.85 109.28,312.43 110.20,314.60 C111.12,316.77 112.45,319.48 113.50,322.00 C114.55,324.52 115.50,327.62 116.50,329.70 C117.50,331.78 118.53,333.35 119.50,334.50 C120.47,335.65 121.30,336.68 122.30,336.60 C123.30,336.52 124.35,335.77 125.50,334.00 C126.65,332.23 128.03,329.17 129.20,326.00 C130.37,322.83 131.45,318.38 132.50,315.00 C133.55,311.62 134.50,308.00 135.50,305.70 C136.50,303.40 137.45,302.25 138.50,301.20 C139.55,300.15 140.55,299.87 141.80,299.40 C143.05,298.93 144.13,298.70 146.00,298.40 C147.87,298.10 142.32,297.77 153.00,297.60 C163.68,297.43 200.58,297.43 210.10,297.40" fill="none" stroke="#4444f4" stroke-width="1.25" stroke-dasharray="1.9 1.4" stroke-linejoin="round"/>
<line x1="66.53" y1="346.20" x2="66.53" y2="343.00" stroke="#3c3c3c" stroke-width="1.00"/>
<line x1="66.53" y1="248.40" x2="66.53" y2="245.20" stroke="#3c3c3c" stroke-width="1.00"/>
<line x1="66.53" y1="248.40" x2="66.53" y2="251.60" stroke="#3c3c3c" stroke-width="1.00"/>
<line x1="90.46" y1="346.20" x2="90.46" y2="344.40" stroke="#3c3c3c" stroke-width="1.00"/>
<line x1="90.46" y1="248.40" x2="90.46" y2="246.60" stroke="#3c3c3c" stroke-width="1.00"/>
<line x1="90.46" y1="248.40" x2="90.46" y2="250.20" stroke="#3c3c3c" stroke-width="1.00"/>
<line x1="114.39" y1="346.20" x2="114.39" y2="343.00" stroke="#3c3c3c" stroke-width="1.00"/>
<line x1="114.39" y1="248.40" x2="114.39" y2="245.20" stroke="#3c3c3c" stroke-width="1.00"/>
<line x1="114.39" y1="248.40" x2="114.39" y2="251.60" stroke="#3c3c3c" stroke-width="1.00"/>
<line x1="138.31" y1="346.20" x2="138.31" y2="344.40" stroke="#3c3c3c" stroke-width="1.00"/>
<line x1="138.31" y1="248.40" x2="138.31" y2="246.60" stroke="#3c3c3c" stroke-width="1.00"/>
<line x1="138.31" y1="248.40" x2="138.31" y2="250.20" stroke="#3c3c3c" stroke-width="1.00"/>
<line x1="162.24" y1="346.20" x2="162.24" y2="343.00" stroke="#3c3c3c" stroke-width="1.00"/>
<line x1="162.24" y1="248.40" x2="162.24" y2="245.20" stroke="#3c3c3c" stroke-width="1.00"/>
<line x1="162.24" y1="248.40" x2="162.24" y2="251.60" stroke="#3c3c3c" stroke-width="1.00"/>
<line x1="186.17" y1="346.20" x2="186.17" y2="344.40" stroke="#3c3c3c" stroke-width="1.00"/>
<line x1="186.17" y1="248.40" x2="186.17" y2="246.60" stroke="#3c3c3c" stroke-width="1.00"/>
<line x1="186.17" y1="248.40" x2="186.17" y2="250.20" stroke="#3c3c3c" stroke-width="1.00"/>
<text x="66.53" y="358.70" font-size="10.00" text-anchor="middle" fill="#111" stroke="#111" textLength="14.80" lengthAdjust="spacingAndGlyphs" >300</text>
<text x="114.39" y="358.70" font-size="10.00" text-anchor="middle" fill="#111" stroke="#111" textLength="14.80" lengthAdjust="spacingAndGlyphs" >400</text>
<text x="162.24" y="358.70" font-size="10.00" text-anchor="middle" fill="#111" stroke="#111" textLength="14.80" lengthAdjust="spacingAndGlyphs" >500</text>
<text x="210.10" y="358.70" font-size="10.00" text-anchor="middle" fill="#111" stroke="#111" textLength="14.80" lengthAdjust="spacingAndGlyphs" >600</text>
<line x1="42.60" y1="239.34" x2="44.40" y2="239.34" stroke="#3c3c3c" stroke-width="1.00"/>
<line x1="210.10" y1="239.34" x2="208.30" y2="239.34" stroke="#3c3c3c" stroke-width="1.00"/>
<line x1="42.60" y1="230.27" x2="45.80" y2="230.27" stroke="#3c3c3c" stroke-width="1.00"/>
<line x1="210.10" y1="230.27" x2="206.90" y2="230.27" stroke="#3c3c3c" stroke-width="1.00"/>
<line x1="42.60" y1="221.21" x2="44.40" y2="221.21" stroke="#3c3c3c" stroke-width="1.00"/>
<line x1="210.10" y1="221.21" x2="208.30" y2="221.21" stroke="#3c3c3c" stroke-width="1.00"/>
<line x1="42.60" y1="212.14" x2="45.80" y2="212.14" stroke="#3c3c3c" stroke-width="1.00"/>
<line x1="210.10" y1="212.14" x2="206.90" y2="212.14" stroke="#3c3c3c" stroke-width="1.00"/>
<line x1="42.60" y1="203.08" x2="44.40" y2="203.08" stroke="#3c3c3c" stroke-width="1.00"/>
<line x1="210.10" y1="203.08" x2="208.30" y2="203.08" stroke="#3c3c3c" stroke-width="1.00"/>
<text x="215.60" y="251.80" font-size="10.00" text-anchor="start" fill="#111" stroke="#111" textLength="4.90" lengthAdjust="spacingAndGlyphs" >0</text>
<text x="215.60" y="233.67" font-size="10.00" text-anchor="start" fill="#111" stroke="#111" textLength="4.90" lengthAdjust="spacingAndGlyphs" >1</text>
<text x="215.60" y="215.54" font-size="10.00" text-anchor="start" fill="#111" stroke="#111" textLength="4.90" lengthAdjust="spacingAndGlyphs" >2</text>
<text x="215.60" y="197.41" font-size="10.00" text-anchor="start" fill="#111" stroke="#111" textLength="4.90" lengthAdjust="spacingAndGlyphs" >3</text>
<line x1="42.60" y1="336.60" x2="45.80" y2="336.60" stroke="#3c3c3c" stroke-width="1.00"/>
<line x1="210.10" y1="336.60" x2="206.90" y2="336.60" stroke="#3c3c3c" stroke-width="1.00"/>
<line x1="42.60" y1="326.80" x2="44.40" y2="326.80" stroke="#3c3c3c" stroke-width="1.00"/>
<line x1="210.10" y1="326.80" x2="208.30" y2="326.80" stroke="#3c3c3c" stroke-width="1.00"/>
<line x1="42.60" y1="317.00" x2="45.80" y2="317.00" stroke="#3c3c3c" stroke-width="1.00"/>
<line x1="210.10" y1="317.00" x2="206.90" y2="317.00" stroke="#3c3c3c" stroke-width="1.00"/>
<line x1="42.60" y1="307.20" x2="44.40" y2="307.20" stroke="#3c3c3c" stroke-width="1.00"/>
<line x1="210.10" y1="307.20" x2="208.30" y2="307.20" stroke="#3c3c3c" stroke-width="1.00"/>
<line x1="42.60" y1="297.40" x2="45.80" y2="297.40" stroke="#3c3c3c" stroke-width="1.00"/>
<line x1="210.10" y1="297.40" x2="206.90" y2="297.40" stroke="#3c3c3c" stroke-width="1.00"/>
<line x1="42.60" y1="287.60" x2="44.40" y2="287.60" stroke="#3c3c3c" stroke-width="1.00"/>
<line x1="210.10" y1="287.60" x2="208.30" y2="287.60" stroke="#3c3c3c" stroke-width="1.00"/>
<line x1="42.60" y1="277.80" x2="45.80" y2="277.80" stroke="#3c3c3c" stroke-width="1.00"/>
<line x1="210.10" y1="277.80" x2="206.90" y2="277.80" stroke="#3c3c3c" stroke-width="1.00"/>
<line x1="42.60" y1="268.00" x2="44.40" y2="268.00" stroke="#3c3c3c" stroke-width="1.00"/>
<line x1="210.10" y1="268.00" x2="208.30" y2="268.00" stroke="#3c3c3c" stroke-width="1.00"/>
<line x1="42.60" y1="258.20" x2="45.80" y2="258.20" stroke="#3c3c3c" stroke-width="1.00"/>
<line x1="210.10" y1="258.20" x2="206.90" y2="258.20" stroke="#3c3c3c" stroke-width="1.00"/>
<text x="38.10" y="340.00" font-size="10.00" text-anchor="end" fill="#111" stroke="#111" textLength="12.80" lengthAdjust="spacingAndGlyphs" >-40</text>
<text x="38.10" y="320.40" font-size="10.00" text-anchor="end" fill="#111" stroke="#111" textLength="12.80" lengthAdjust="spacingAndGlyphs" >-20</text>
<text x="38.10" y="300.80" font-size="10.00" text-anchor="end" fill="#111" stroke="#111" textLength="4.90" lengthAdjust="spacingAndGlyphs" >0</text>
<text x="38.10" y="281.20" font-size="10.00" text-anchor="end" fill="#111" stroke="#111" textLength="9.80" lengthAdjust="spacingAndGlyphs" >20</text>
<text x="38.10" y="261.60" font-size="10.00" text-anchor="end" fill="#111" stroke="#111" textLength="9.80" lengthAdjust="spacingAndGlyphs" >40</text>
<text x="126.15" y="373.30" font-size="10.00" text-anchor="middle" fill="#111" stroke="#111" textLength="77.20" lengthAdjust="spacingAndGlyphs" >Wavelength (nm)</text>
<line x1="279.20" y1="297.60" x2="447.30" y2="297.60" stroke="#333" stroke-width="1.00"/>
<rect x="279.20" y="194.40" width="168.10" height="152.00" fill="none" stroke="#3c3c3c" stroke-width="1.3"/>
<line x1="279.20" y1="248.40" x2="447.30" y2="248.40" stroke="#3c3c3c" stroke-width="1.3"/>
<path d="M279.30,230.60 C280.13,230.78 282.77,231.17 284.30,231.70 C285.83,232.23 287.12,233.02 288.50,233.80 C289.88,234.58 291.10,235.57 292.60,236.40 C294.10,237.23 295.85,238.17 297.50,238.80 C299.15,239.43 300.75,240.07 302.50,240.20 C304.25,240.33 306.07,239.97 308.00,239.60 C309.93,239.23 312.10,238.53 314.10,238.00 C316.10,237.47 318.07,237.00 320.00,236.40 C321.93,235.80 323.78,234.93 325.70,234.40 C327.62,233.87 329.57,233.90 331.50,233.20 C333.43,232.50 335.55,231.20 337.30,230.20 C339.05,229.20 340.35,228.32 342.00,227.20 C343.65,226.08 345.53,224.78 347.20,223.50 C348.87,222.22 350.35,220.77 352.00,219.50 C353.65,218.23 355.60,216.83 357.10,215.90 C358.60,214.97 359.62,214.45 361.00,213.90 C362.38,213.35 364.07,212.90 365.40,212.60 C366.73,212.30 367.70,212.20 369.00,212.10 C370.30,212.00 371.87,211.92 373.20,212.00 C374.53,212.08 375.62,212.27 377.00,212.60 C378.38,212.93 380.08,213.40 381.50,214.00 C382.92,214.60 384.12,215.20 385.50,216.20 C386.88,217.20 388.38,218.67 389.80,220.00 C391.22,221.33 392.62,222.77 394.00,224.20 C395.38,225.63 396.85,227.17 398.10,228.60 C399.35,230.03 400.40,231.40 401.50,232.80 C402.60,234.20 403.62,235.72 404.70,237.00 C405.78,238.28 406.90,239.37 408.00,240.50 C409.10,241.63 410.22,242.93 411.30,243.80 C412.38,244.67 413.40,245.23 414.50,245.70 C415.60,246.17 416.32,246.33 417.90,246.60 C419.48,246.87 419.10,247.15 424.00,247.30 C428.90,247.45 443.42,247.47 447.30,247.50" fill="none" stroke="#ff4444" stroke-width="1.25" stroke-linejoin="round"/>
<path d="M279.30,227.30 C280.13,227.43 282.77,227.65 284.30,228.10 C285.83,228.55 287.12,229.32 288.50,230.00 C289.88,230.68 291.18,231.48 292.60,232.20 C294.02,232.92 295.48,233.75 297.00,234.30 C298.52,234.85 299.87,235.48 301.70,235.50 C303.53,235.52 305.93,234.95 308.00,234.40 C310.07,233.85 312.10,232.92 314.10,232.20 C316.10,231.48 318.07,230.78 320.00,230.10 C321.93,229.42 323.78,228.77 325.70,228.10 C327.62,227.43 329.57,226.78 331.50,226.10 C333.43,225.42 335.55,224.73 337.30,224.00 C339.05,223.27 340.35,222.53 342.00,221.70 C343.65,220.87 345.53,219.83 347.20,219.00 C348.87,218.17 350.35,217.45 352.00,216.70 C353.65,215.95 355.60,215.07 357.10,214.50 C358.60,213.93 359.62,213.65 361.00,213.30 C362.38,212.95 363.90,212.67 365.40,212.40 C366.90,212.13 368.42,211.85 370.00,211.70 C371.58,211.55 373.23,211.40 374.90,211.50 C376.57,211.60 378.35,211.88 380.00,212.30 C381.65,212.72 383.30,213.35 384.80,214.00 C386.30,214.65 387.62,215.37 389.00,216.20 C390.38,217.03 391.73,217.90 393.10,219.00 C394.47,220.10 395.82,221.42 397.20,222.80 C398.58,224.18 400.02,225.72 401.40,227.30 C402.78,228.88 404.12,230.65 405.50,232.30 C406.88,233.95 408.45,235.87 409.70,237.20 C410.95,238.53 411.90,239.47 413.00,240.30 C414.10,241.13 415.13,241.68 416.30,242.20 C417.47,242.72 418.35,243.05 420.00,243.40 C421.65,243.75 423.53,244.03 426.20,244.30 C428.87,244.57 432.48,244.80 436.00,245.00 C439.52,245.20 445.42,245.42 447.30,245.50" fill="none" stroke="#4444f4" stroke-width="1.25" stroke-dasharray="1.9 1.4" stroke-linejoin="round"/>
<path d="M279.30,297.70 C281.08,297.72 286.55,297.82 290.00,297.80 C293.45,297.78 296.33,297.93 300.00,297.60 C303.67,297.27 308.00,296.50 312.00,295.80 C316.00,295.10 321.00,294.15 324.00,293.40 C327.00,292.65 328.00,292.10 330.00,291.30 C332.00,290.50 334.67,289.35 336.00,288.60 C337.33,287.85 336.73,287.77 338.00,286.80 C339.27,285.83 342.00,284.00 343.60,282.80 C345.20,281.60 346.33,280.33 347.60,279.60 C348.87,278.87 350.00,278.40 351.20,278.40 C352.40,278.40 353.67,278.80 354.80,279.60 C355.93,280.40 356.93,281.73 358.00,283.20 C359.07,284.67 360.27,286.80 361.20,288.40 C362.13,290.00 362.87,291.33 363.60,292.80 C364.33,294.27 364.95,295.70 365.60,297.20 C366.25,298.70 366.73,299.92 367.50,301.80 C368.27,303.68 369.12,305.88 370.20,308.50 C371.28,311.12 372.73,315.02 374.00,317.50 C375.27,319.98 376.55,321.82 377.80,323.40 C379.05,324.98 380.15,326.15 381.50,327.00 C382.85,327.85 384.57,328.45 385.90,328.50 C387.23,328.55 388.32,327.93 389.50,327.30 C390.68,326.67 391.83,325.83 393.00,324.70 C394.17,323.57 395.23,321.98 396.50,320.50 C397.77,319.02 399.27,317.38 400.60,315.80 C401.93,314.22 403.23,312.47 404.50,311.00 C405.77,309.53 406.95,308.25 408.20,307.00 C409.45,305.75 410.73,304.48 412.00,303.50 C413.27,302.52 414.55,301.70 415.80,301.10 C417.05,300.50 418.23,300.20 419.50,299.90 C420.77,299.60 422.75,299.40 423.40,299.30" fill="none" stroke="#ff4444" stroke-width="1.25" stroke-linejoin="round"/>
<path d="M279.30,297.00 C281.08,297.20 286.55,297.80 290.00,298.20 C293.45,298.60 296.33,298.80 300.00,299.40 C303.67,300.00 308.00,300.80 312.00,301.80 C316.00,302.80 321.00,304.37 324.00,305.40 C327.00,306.43 328.00,307.00 330.00,308.00 C332.00,309.00 334.33,310.40 336.00,311.40 C337.67,312.40 338.82,313.20 340.00,314.00 C341.18,314.80 342.10,315.62 343.10,316.20 C344.10,316.78 345.00,317.23 346.00,317.50 C347.00,317.77 348.10,317.95 349.10,317.80 C350.10,317.65 351.00,317.37 352.00,316.60 C353.00,315.83 354.22,314.63 355.10,313.20 C355.98,311.77 356.60,309.53 357.30,308.00 C358.00,306.47 358.60,305.53 359.30,304.00 C360.00,302.47 360.80,300.57 361.50,298.80 C362.20,297.03 362.82,295.20 363.50,293.40 C364.18,291.60 364.88,289.78 365.60,288.00 C366.32,286.22 367.07,284.48 367.80,282.70 C368.53,280.92 369.30,279.00 370.00,277.30 C370.70,275.60 371.33,274.00 372.00,272.50 C372.67,271.00 373.28,269.62 374.00,268.30 C374.72,266.98 375.47,265.62 376.30,264.60 C377.13,263.58 378.12,262.73 379.00,262.20 C379.88,261.67 380.68,261.40 381.60,261.40 C382.52,261.40 383.45,261.57 384.50,262.20 C385.55,262.83 386.73,263.93 387.90,265.20 C389.07,266.47 390.23,268.12 391.50,269.80 C392.77,271.48 394.00,273.18 395.50,275.30 C397.00,277.42 398.82,280.18 400.50,282.50 C402.18,284.82 404.10,287.37 405.60,289.20 C407.10,291.03 408.23,292.32 409.50,293.50 C410.77,294.68 412.03,295.67 413.20,296.30 C414.37,296.93 414.53,297.07 416.50,297.30 C418.47,297.53 419.87,297.63 425.00,297.70 C430.13,297.77 443.58,297.70 447.30,297.70" fill="none" stroke="#4444f4" stroke-width="1.25" stroke-dasharray="1.9 1.4" stroke-linejoin="round"/>
<line x1="303.21" y1="346.40" x2="303.21" y2="343.20" stroke="#3c3c3c" stroke-width="1.00"/>
<line x1="303.21" y1="248.40" x2="303.21" y2="245.20" stroke="#3c3c3c" stroke-width="1.00"/>
<line x1="303.21" y1="248.40" x2="303.21" y2="251.60" stroke="#3c3c3c" stroke-width="1.00"/>
<line x1="327.23" y1="346.40" x2="327.23" y2="344.60" stroke="#3c3c3c" stroke-width="1.00"/>
<line x1="327.23" y1="248.40" x2="327.23" y2="246.60" stroke="#3c3c3c" stroke-width="1.00"/>
<line x1="327.23" y1="248.40" x2="327.23" y2="250.20" stroke="#3c3c3c" stroke-width="1.00"/>
<line x1="351.24" y1="346.40" x2="351.24" y2="343.20" stroke="#3c3c3c" stroke-width="1.00"/>
<line x1="351.24" y1="248.40" x2="351.24" y2="245.20" stroke="#3c3c3c" stroke-width="1.00"/>
<line x1="351.24" y1="248.40" x2="351.24" y2="251.60" stroke="#3c3c3c" stroke-width="1.00"/>
<line x1="375.26" y1="346.40" x2="375.26" y2="344.60" stroke="#3c3c3c" stroke-width="1.00"/>
<line x1="375.26" y1="248.40" x2="375.26" y2="246.60" stroke="#3c3c3c" stroke-width="1.00"/>
<line x1="375.26" y1="248.40" x2="375.26" y2="250.20" stroke="#3c3c3c" stroke-width="1.00"/>
<line x1="399.27" y1="346.40" x2="399.27" y2="343.20" stroke="#3c3c3c" stroke-width="1.00"/>
<line x1="399.27" y1="248.40" x2="399.27" y2="245.20" stroke="#3c3c3c" stroke-width="1.00"/>
<line x1="399.27" y1="248.40" x2="399.27" y2="251.60" stroke="#3c3c3c" stroke-width="1.00"/>
<line x1="423.29" y1="346.40" x2="423.29" y2="344.60" stroke="#3c3c3c" stroke-width="1.00"/>
<line x1="423.29" y1="248.40" x2="423.29" y2="246.60" stroke="#3c3c3c" stroke-width="1.00"/>
<line x1="423.29" y1="248.40" x2="423.29" y2="250.20" stroke="#3c3c3c" stroke-width="1.00"/>
<text x="303.21" y="358.90" font-size="10.00" text-anchor="middle" fill="#111" stroke="#111" textLength="14.80" lengthAdjust="spacingAndGlyphs" >300</text>
<text x="351.24" y="358.90" font-size="10.00" text-anchor="middle" fill="#111" stroke="#111" textLength="14.80" lengthAdjust="spacingAndGlyphs" >400</text>
<text x="399.27" y="358.90" font-size="10.00" text-anchor="middle" fill="#111" stroke="#111" textLength="14.80" lengthAdjust="spacingAndGlyphs" >500</text>
<text x="447.30" y="358.90" font-size="10.00" text-anchor="middle" fill="#111" stroke="#111" textLength="14.80" lengthAdjust="spacingAndGlyphs" >600</text>
<line x1="279.20" y1="234.75" x2="281.00" y2="234.75" stroke="#3c3c3c" stroke-width="1.00"/>
<line x1="447.30" y1="234.75" x2="445.50" y2="234.75" stroke="#3c3c3c" stroke-width="1.00"/>
<line x1="279.20" y1="221.10" x2="282.40" y2="221.10" stroke="#3c3c3c" stroke-width="1.00"/>
<line x1="447.30" y1="221.10" x2="444.10" y2="221.10" stroke="#3c3c3c" stroke-width="1.00"/>
<line x1="279.20" y1="207.45" x2="281.00" y2="207.45" stroke="#3c3c3c" stroke-width="1.00"/>
<line x1="447.30" y1="207.45" x2="445.50" y2="207.45" stroke="#3c3c3c" stroke-width="1.00"/>
<text x="452.80" y="251.80" font-size="10.00" text-anchor="start" fill="#111" stroke="#111" textLength="4.90" lengthAdjust="spacingAndGlyphs" >0</text>
<text x="452.80" y="224.50" font-size="10.00" text-anchor="start" fill="#111" stroke="#111" textLength="4.90" lengthAdjust="spacingAndGlyphs" >1</text>
<text x="452.80" y="197.20" font-size="10.00" text-anchor="start" fill="#111" stroke="#111" textLength="4.90" lengthAdjust="spacingAndGlyphs" >2</text>
<line x1="279.20" y1="334.35" x2="281.00" y2="334.35" stroke="#3c3c3c" stroke-width="1.00"/>
<line x1="447.30" y1="334.35" x2="445.50" y2="334.35" stroke="#3c3c3c" stroke-width="1.00"/>
<line x1="279.20" y1="322.10" x2="282.40" y2="322.10" stroke="#3c3c3c" stroke-width="1.00"/>
<line x1="447.30" y1="322.10" x2="444.10" y2="322.10" stroke="#3c3c3c" stroke-width="1.00"/>
<line x1="279.20" y1="309.85" x2="281.00" y2="309.85" stroke="#3c3c3c" stroke-width="1.00"/>
<line x1="447.30" y1="309.85" x2="445.50" y2="309.85" stroke="#3c3c3c" stroke-width="1.00"/>
<line x1="279.20" y1="297.60" x2="282.40" y2="297.60" stroke="#3c3c3c" stroke-width="1.00"/>
<line x1="447.30" y1="297.60" x2="444.10" y2="297.60" stroke="#3c3c3c" stroke-width="1.00"/>
<line x1="279.20" y1="285.35" x2="281.00" y2="285.35" stroke="#3c3c3c" stroke-width="1.00"/>
<line x1="447.30" y1="285.35" x2="445.50" y2="285.35" stroke="#3c3c3c" stroke-width="1.00"/>
<line x1="279.20" y1="273.10" x2="282.40" y2="273.10" stroke="#3c3c3c" stroke-width="1.00"/>
<line x1="447.30" y1="273.10" x2="444.10" y2="273.10" stroke="#3c3c3c" stroke-width="1.00"/>
<line x1="279.20" y1="260.85" x2="281.00" y2="260.85" stroke="#3c3c3c" stroke-width="1.00"/>
<line x1="447.30" y1="260.85" x2="445.50" y2="260.85" stroke="#3c3c3c" stroke-width="1.00"/>
<text x="274.70" y="350.00" font-size="10.00" text-anchor="end" fill="#111" stroke="#111" textLength="12.80" lengthAdjust="spacingAndGlyphs" >-40</text>
<text x="274.70" y="325.50" font-size="10.00" text-anchor="end" fill="#111" stroke="#111" textLength="12.80" lengthAdjust="spacingAndGlyphs" >-20</text>
<text x="274.70" y="301.00" font-size="10.00" text-anchor="end" fill="#111" stroke="#111" textLength="4.90" lengthAdjust="spacingAndGlyphs" >0</text>
<text x="274.70" y="276.50" font-size="10.00" text-anchor="end" fill="#111" stroke="#111" textLength="9.80" lengthAdjust="spacingAndGlyphs" >20</text>
<text x="274.70" y="252.00" font-size="10.00" text-anchor="end" fill="#111" stroke="#111" textLength="9.80" lengthAdjust="spacingAndGlyphs" >40</text>
<text x="362.15" y="373.50" font-size="10.00" text-anchor="middle" fill="#111" stroke="#111" textLength="77.20" lengthAdjust="spacingAndGlyphs" >Wavelength (nm)</text>
<line x1="514.60" y1="297.50" x2="682.50" y2="297.50" stroke="#888" stroke-width="1.50"/>
<rect x="514.60" y="194.40" width="167.90" height="151.80" fill="none" stroke="#3c3c3c" stroke-width="1.3"/>
<line x1="514.60" y1="248.40" x2="682.50" y2="248.40" stroke="#3c3c3c" stroke-width="1.3"/>
<path d="M514.60,226.10 C515.48,226.43 518.42,227.28 519.90,228.10 C521.38,228.92 522.38,230.03 523.50,231.00 C524.62,231.97 525.43,232.97 526.60,233.90 C527.77,234.83 529.13,235.87 530.50,236.60 C531.87,237.33 533.38,238.00 534.80,238.30 C536.22,238.60 537.62,238.50 539.00,238.40 C540.38,238.30 541.60,238.02 543.10,237.70 C544.60,237.38 546.35,236.95 548.00,236.50 C549.65,236.05 551.33,235.63 553.00,235.00 C554.67,234.37 556.33,233.58 558.00,232.70 C559.67,231.82 561.33,230.78 563.00,229.70 C564.67,228.62 566.35,227.43 568.00,226.20 C569.65,224.97 571.23,223.73 572.90,222.30 C574.57,220.87 576.35,219.12 578.00,217.60 C579.65,216.08 581.30,214.42 582.80,213.20 C584.30,211.98 585.62,211.13 587.00,210.30 C588.38,209.47 589.77,208.73 591.10,208.20 C592.43,207.67 593.62,207.33 595.00,207.10 C596.38,206.87 597.75,206.80 599.40,206.80 C601.05,206.80 603.55,206.93 604.90,207.10 C606.25,207.27 606.67,207.48 607.50,207.80 C608.33,208.12 608.98,208.52 609.90,209.00 C610.82,209.48 611.90,210.13 613.00,210.70 C614.10,211.27 615.42,211.92 616.50,212.40 C617.58,212.88 618.53,213.20 619.50,213.60 C620.47,214.00 621.47,214.30 622.30,214.80 C623.13,215.30 623.80,215.77 624.50,216.60 C625.20,217.43 625.87,218.65 626.50,219.80 C627.13,220.95 627.75,222.25 628.30,223.50 C628.85,224.75 629.27,226.08 629.80,227.30 C630.33,228.52 630.95,229.70 631.50,230.80 C632.05,231.90 632.43,232.87 633.10,233.90 C633.77,234.93 634.68,236.10 635.50,237.00 C636.32,237.90 637.08,238.65 638.00,239.30 C638.92,239.95 639.88,240.48 641.00,240.90 C642.12,241.32 642.87,241.52 644.70,241.80 C646.53,242.08 649.25,242.35 652.00,242.60 C654.75,242.85 658.03,243.03 661.20,243.30 C664.37,243.57 667.47,243.90 671.00,244.20 C674.53,244.50 680.50,244.95 682.40,245.10" fill="none" stroke="#ff4444" stroke-width="1.25" stroke-linejoin="round"/>
<path d="M514.60,227.70 C515.48,227.98 518.42,228.75 519.90,229.40 C521.38,230.05 522.38,230.85 523.50,231.60 C524.62,232.35 525.52,233.17 526.60,233.90 C527.68,234.63 528.90,235.55 530.00,236.00 C531.10,236.45 532.20,236.52 533.20,236.60 C534.20,236.68 535.18,236.62 536.00,236.50 C536.82,236.38 537.35,236.18 538.10,235.90 C538.85,235.62 539.67,235.22 540.50,234.80 C541.33,234.38 541.85,233.83 543.10,233.40 C544.35,232.97 546.35,232.58 548.00,232.20 C549.65,231.82 551.33,231.57 553.00,231.10 C554.67,230.63 556.33,230.03 558.00,229.40 C559.67,228.77 561.33,228.12 563.00,227.30 C564.67,226.48 566.35,225.53 568.00,224.50 C569.65,223.47 571.23,222.35 572.90,221.10 C574.57,219.85 576.35,218.32 578.00,217.00 C579.65,215.68 581.22,214.37 582.80,213.20 C584.38,212.03 585.83,210.97 587.50,210.00 C589.17,209.03 590.82,207.97 592.80,207.40 C594.78,206.83 597.10,206.73 599.40,206.60 C601.70,206.47 605.00,206.45 606.60,206.60 C608.20,206.75 608.17,207.10 609.00,207.50 C609.83,207.90 610.43,208.52 611.60,209.00 C612.77,209.48 614.35,209.98 616.00,210.40 C617.65,210.82 620.20,211.10 621.50,211.50 C622.80,211.90 623.12,212.25 623.80,212.80 C624.48,213.35 624.93,213.93 625.60,214.80 C626.27,215.67 627.10,216.75 627.80,218.00 C628.50,219.25 629.12,220.88 629.80,222.30 C630.48,223.72 631.22,225.12 631.90,226.50 C632.58,227.88 633.22,229.38 633.90,230.60 C634.58,231.82 635.32,232.83 636.00,233.80 C636.68,234.77 637.17,235.62 638.00,236.40 C638.83,237.18 639.88,237.95 641.00,238.50 C642.12,239.05 642.87,239.28 644.70,239.70 C646.53,240.12 649.25,240.58 652.00,241.00 C654.75,241.42 658.03,241.87 661.20,242.20 C664.37,242.53 667.47,242.73 671.00,243.00 C674.53,243.27 680.50,243.67 682.40,243.80" fill="none" stroke="#4444f4" stroke-width="1.25" stroke-dasharray="1.9 1.4" stroke-linejoin="round"/>
<path d="M514.60,297.40 C516.33,297.53 521.55,297.87 525.00,298.20 C528.45,298.53 531.47,298.87 535.30,299.40 C539.13,299.93 543.78,300.68 548.00,301.40 C552.22,302.12 557.77,303.18 560.60,303.70 C563.43,304.22 563.52,304.30 565.00,304.50 C566.48,304.70 568.08,304.95 569.50,304.90 C570.92,304.85 572.23,304.70 573.50,304.20 C574.77,303.70 576.02,302.77 577.10,301.90 C578.18,301.03 579.15,299.75 580.00,299.00 C580.85,298.25 581.20,298.20 582.20,297.40 C583.20,296.60 584.53,295.35 586.00,294.20 C587.47,293.05 589.28,291.97 591.00,290.50 C592.72,289.03 594.35,286.88 596.30,285.40 C598.25,283.92 600.80,283.07 602.70,281.60 C604.60,280.13 606.40,277.95 607.70,276.60 C609.00,275.25 609.65,274.35 610.50,273.50 C611.35,272.65 611.97,272.00 612.80,271.50 C613.63,271.00 614.67,270.80 615.50,270.50 C616.33,270.20 617.05,270.12 617.80,269.70 C618.55,269.28 619.37,268.67 620.00,268.00 C620.63,267.33 621.02,266.62 621.60,265.70 C622.18,264.78 622.73,263.52 623.50,262.50 C624.27,261.48 625.45,259.85 626.20,259.60 C626.95,259.35 627.50,260.28 628.00,261.00 C628.50,261.72 628.78,262.57 629.20,263.90 C629.62,265.23 630.07,267.10 630.50,269.00 C630.93,270.90 631.17,272.13 631.80,275.30 C632.43,278.47 633.47,284.20 634.30,288.00 C635.13,291.80 636.10,295.68 636.80,298.10 C637.50,300.52 637.87,301.32 638.50,302.50 C639.13,303.68 639.85,304.70 640.60,305.20 C641.35,305.70 642.18,305.60 643.00,305.50 C643.82,305.40 644.63,304.78 645.50,304.60 C646.37,304.42 647.28,304.57 648.20,304.40 C649.12,304.23 650.20,303.62 651.00,303.60 C651.80,303.58 652.20,304.37 653.00,304.30 C653.80,304.23 654.80,303.53 655.80,303.20 C656.80,302.87 657.97,302.35 659.00,302.30 C660.03,302.25 660.85,302.88 662.00,302.90 C663.15,302.92 664.73,302.63 665.90,302.40 C667.07,302.17 667.98,301.48 669.00,301.50 C670.02,301.52 670.82,302.43 672.00,302.50 C673.18,302.57 674.93,302.12 676.10,301.90 C677.27,301.68 677.95,301.42 679.00,301.20 C680.05,300.98 681.83,300.70 682.40,300.60" fill="none" stroke="#ff4444" stroke-width="1.25" stroke-linejoin="round"/>
<path d="M514.60,297.40 C516.33,297.17 521.55,296.52 525.00,296.00 C528.45,295.48 531.47,295.22 535.30,294.30 C539.13,293.38 543.78,291.98 548.00,290.50 C552.22,289.02 557.77,286.48 560.60,285.40 C563.43,284.32 563.30,284.33 565.00,284.00 C566.70,283.67 569.22,283.32 570.80,283.40 C572.38,283.48 573.23,283.95 574.50,284.50 C575.77,285.05 577.15,285.82 578.40,286.70 C579.65,287.58 580.73,288.53 582.00,289.80 C583.27,291.07 584.92,293.03 586.00,294.30 C587.08,295.57 587.33,296.48 588.50,297.40 C589.67,298.32 591.48,299.05 593.00,299.80 C594.52,300.55 596.27,301.20 597.60,301.90 C598.93,302.60 599.73,303.15 601.00,304.00 C602.27,304.85 603.87,306.00 605.20,307.00 C606.53,308.00 607.73,308.95 609.00,310.00 C610.27,311.05 611.63,312.42 612.80,313.30 C613.97,314.18 614.95,314.80 616.00,315.30 C617.05,315.80 618.27,315.77 619.10,316.30 C619.93,316.83 620.37,317.52 621.00,318.50 C621.63,319.48 622.23,320.78 622.90,322.20 C623.57,323.62 624.23,325.62 625.00,327.00 C625.77,328.38 626.75,330.08 627.50,330.50 C628.25,330.92 628.78,330.25 629.50,329.50 C630.22,328.75 631.05,327.50 631.80,326.00 C632.55,324.50 633.17,322.62 634.00,320.50 C634.83,318.38 635.97,315.30 636.80,313.30 C637.63,311.30 638.15,309.77 639.00,308.50 C639.85,307.23 640.90,306.53 641.90,305.70 C642.90,304.87 643.52,304.13 645.00,303.50 C646.48,302.87 649.13,302.43 650.80,301.90 C652.47,301.37 653.80,300.45 655.00,300.30 C656.20,300.15 657.00,301.05 658.00,301.00 C659.00,300.95 659.68,300.07 661.00,300.00 C662.32,299.93 664.57,300.68 665.90,300.60 C667.23,300.52 667.82,299.63 669.00,299.50 C670.18,299.37 671.67,299.97 673.00,299.80 C674.33,299.63 675.65,298.87 677.00,298.50 C678.35,298.13 680.20,297.78 681.10,297.60 C682.00,297.42 682.18,297.43 682.40,297.40" fill="none" stroke="#4444f4" stroke-width="1.25" stroke-dasharray="1.9 1.4" stroke-linejoin="round"/>
<line x1="529.86" y1="346.20" x2="529.86" y2="343.00" stroke="#3c3c3c" stroke-width="1.00"/>
<line x1="529.86" y1="248.40" x2="529.86" y2="245.20" stroke="#3c3c3c" stroke-width="1.00"/>
<line x1="529.86" y1="248.40" x2="529.86" y2="251.60" stroke="#3c3c3c" stroke-width="1.00"/>
<line x1="545.13" y1="346.20" x2="545.13" y2="344.40" stroke="#3c3c3c" stroke-width="1.00"/>
<line x1="545.13" y1="248.40" x2="545.13" y2="246.60" stroke="#3c3c3c" stroke-width="1.00"/>
<line x1="545.13" y1="248.40" x2="545.13" y2="250.20" stroke="#3c3c3c" stroke-width="1.00"/>
<line x1="560.39" y1="346.20" x2="560.39" y2="343.00" stroke="#3c3c3c" stroke-width="1.00"/>
<line x1="560.39" y1="248.40" x2="560.39" y2="245.20" stroke="#3c3c3c" stroke-width="1.00"/>
<line x1="560.39" y1="248.40" x2="560.39" y2="251.60" stroke="#3c3c3c" stroke-width="1.00"/>
<line x1="575.65" y1="346.20" x2="575.65" y2="344.40" stroke="#3c3c3c" stroke-width="1.00"/>
<line x1="575.65" y1="248.40" x2="575.65" y2="246.60" stroke="#3c3c3c" stroke-width="1.00"/>
<line x1="575.65" y1="248.40" x2="575.65" y2="250.20" stroke="#3c3c3c" stroke-width="1.00"/>
<line x1="590.92" y1="346.20" x2="590.92" y2="343.00" stroke="#3c3c3c" stroke-width="1.00"/>
<line x1="590.92" y1="248.40" x2="590.92" y2="245.20" stroke="#3c3c3c" stroke-width="1.00"/>
<line x1="590.92" y1="248.40" x2="590.92" y2="251.60" stroke="#3c3c3c" stroke-width="1.00"/>
<line x1="606.18" y1="346.20" x2="606.18" y2="344.40" stroke="#3c3c3c" stroke-width="1.00"/>
<line x1="606.18" y1="248.40" x2="606.18" y2="246.60" stroke="#3c3c3c" stroke-width="1.00"/>
<line x1="606.18" y1="248.40" x2="606.18" y2="250.20" stroke="#3c3c3c" stroke-width="1.00"/>
<line x1="621.45" y1="346.20" x2="621.45" y2="343.00" stroke="#3c3c3c" stroke-width="1.00"/>
<line x1="621.45" y1="248.40" x2="621.45" y2="245.20" stroke="#3c3c3c" stroke-width="1.00"/>
<line x1="621.45" y1="248.40" x2="621.45" y2="251.60" stroke="#3c3c3c" stroke-width="1.00"/>
<line x1="636.71" y1="346.20" x2="636.71" y2="344.40" stroke="#3c3c3c" stroke-width="1.00"/>
<line x1="636.71" y1="248.40" x2="636.71" y2="246.60" stroke="#3c3c3c" stroke-width="1.00"/>
<line x1="636.71" y1="248.40" x2="636.71" y2="250.20" stroke="#3c3c3c" stroke-width="1.00"/>
<line x1="651.97" y1="346.20" x2="651.97" y2="343.00" stroke="#3c3c3c" stroke-width="1.00"/>
<line x1="651.97" y1="248.40" x2="651.97" y2="245.20" stroke="#3c3c3c" stroke-width="1.00"/>
<line x1="651.97" y1="248.40" x2="651.97" y2="251.60" stroke="#3c3c3c" stroke-width="1.00"/>
<line x1="667.24" y1="346.20" x2="667.24" y2="344.40" stroke="#3c3c3c" stroke-width="1.00"/>
<line x1="667.24" y1="248.40" x2="667.24" y2="246.60" stroke="#3c3c3c" stroke-width="1.00"/>
<line x1="667.24" y1="248.40" x2="667.24" y2="250.20" stroke="#3c3c3c" stroke-width="1.00"/>
<text x="529.86" y="358.70" font-size="10.00" text-anchor="middle" fill="#111" stroke="#111" textLength="14.80" lengthAdjust="spacingAndGlyphs" >300</text>
<text x="560.39" y="358.70" font-size="10.00" text-anchor="middle" fill="#111" stroke="#111" textLength="14.80" lengthAdjust="spacingAndGlyphs" >400</text>
<text x="590.92" y="358.70" font-size="10.00" text-anchor="middle" fill="#111" stroke="#111" textLength="14.80" lengthAdjust="spacingAndGlyphs" >500</text>
<text x="621.45" y="358.70" font-size="10.00" text-anchor="middle" fill="#111" stroke="#111" textLength="14.80" lengthAdjust="spacingAndGlyphs" >600</text>
<text x="651.97" y="358.70" font-size="10.00" text-anchor="middle" fill="#111" stroke="#111" textLength="14.80" lengthAdjust="spacingAndGlyphs" >700</text>
<text x="682.50" y="358.70" font-size="10.00" text-anchor="middle" fill="#111" stroke="#111" textLength="14.80" lengthAdjust="spacingAndGlyphs" >800</text>
<line x1="514.60" y1="242.07" x2="516.40" y2="242.07" stroke="#3c3c3c" stroke-width="1.00"/>
<line x1="682.50" y1="242.07" x2="680.70" y2="242.07" stroke="#3c3c3c" stroke-width="1.00"/>
<line x1="514.60" y1="235.24" x2="517.80" y2="235.24" stroke="#3c3c3c" stroke-width="1.00"/>
<line x1="682.50" y1="235.24" x2="679.30" y2="235.24" stroke="#3c3c3c" stroke-width="1.00"/>
<line x1="514.60" y1="228.41" x2="516.40" y2="228.41" stroke="#3c3c3c" stroke-width="1.00"/>
<line x1="682.50" y1="228.41" x2="680.70" y2="228.41" stroke="#3c3c3c" stroke-width="1.00"/>
<line x1="514.60" y1="221.58" x2="517.80" y2="221.58" stroke="#3c3c3c" stroke-width="1.00"/>
<line x1="682.50" y1="221.58" x2="679.30" y2="221.58" stroke="#3c3c3c" stroke-width="1.00"/>
<line x1="514.60" y1="214.75" x2="516.40" y2="214.75" stroke="#3c3c3c" stroke-width="1.00"/>
<line x1="682.50" y1="214.75" x2="680.70" y2="214.75" stroke="#3c3c3c" stroke-width="1.00"/>
<line x1="514.60" y1="207.92" x2="517.80" y2="207.92" stroke="#3c3c3c" stroke-width="1.00"/>
<line x1="682.50" y1="207.92" x2="679.30" y2="207.92" stroke="#3c3c3c" stroke-width="1.00"/>
<line x1="514.60" y1="201.09" x2="516.40" y2="201.09" stroke="#3c3c3c" stroke-width="1.00"/>
<line x1="682.50" y1="201.09" x2="680.70" y2="201.09" stroke="#3c3c3c" stroke-width="1.00"/>
<text x="688.00" y="252.30" font-size="10.00" text-anchor="start" fill="#111" stroke="#111" textLength="4.90" lengthAdjust="spacingAndGlyphs" >0</text>
<text x="688.00" y="238.64" font-size="10.00" text-anchor="start" fill="#111" stroke="#111" textLength="12.20" lengthAdjust="spacingAndGlyphs" >0.2</text>
<text x="688.00" y="224.98" font-size="10.00" text-anchor="start" fill="#111" stroke="#111" textLength="12.20" lengthAdjust="spacingAndGlyphs" >0.4</text>
<text x="688.00" y="211.32" font-size="10.00" text-anchor="start" fill="#111" stroke="#111" textLength="12.20" lengthAdjust="spacingAndGlyphs" >0.6</text>
<text x="688.00" y="197.66" font-size="10.00" text-anchor="start" fill="#111" stroke="#111" textLength="12.20" lengthAdjust="spacingAndGlyphs" >0.8</text>
<line x1="514.60" y1="340.90" x2="516.40" y2="340.90" stroke="#3c3c3c" stroke-width="1.00"/>
<line x1="682.50" y1="340.90" x2="680.70" y2="340.90" stroke="#3c3c3c" stroke-width="1.00"/>
<line x1="514.60" y1="334.70" x2="516.40" y2="334.70" stroke="#3c3c3c" stroke-width="1.00"/>
<line x1="682.50" y1="334.70" x2="680.70" y2="334.70" stroke="#3c3c3c" stroke-width="1.00"/>
<line x1="514.60" y1="328.50" x2="517.80" y2="328.50" stroke="#3c3c3c" stroke-width="1.00"/>
<line x1="682.50" y1="328.50" x2="679.30" y2="328.50" stroke="#3c3c3c" stroke-width="1.00"/>
<line x1="514.60" y1="322.30" x2="516.40" y2="322.30" stroke="#3c3c3c" stroke-width="1.00"/>
<line x1="682.50" y1="322.30" x2="680.70" y2="322.30" stroke="#3c3c3c" stroke-width="1.00"/>
<line x1="514.60" y1="316.10" x2="516.40" y2="316.10" stroke="#3c3c3c" stroke-width="1.00"/>
<line x1="682.50" y1="316.10" x2="680.70" y2="316.10" stroke="#3c3c3c" stroke-width="1.00"/>
<line x1="514.60" y1="309.90" x2="516.40" y2="309.90" stroke="#3c3c3c" stroke-width="1.00"/>
<line x1="682.50" y1="309.90" x2="680.70" y2="309.90" stroke="#3c3c3c" stroke-width="1.00"/>
<line x1="514.60" y1="303.70" x2="516.40" y2="303.70" stroke="#3c3c3c" stroke-width="1.00"/>
<line x1="682.50" y1="303.70" x2="680.70" y2="303.70" stroke="#3c3c3c" stroke-width="1.00"/>
<line x1="514.60" y1="297.50" x2="517.80" y2="297.50" stroke="#3c3c3c" stroke-width="1.00"/>
<line x1="682.50" y1="297.50" x2="679.30" y2="297.50" stroke="#3c3c3c" stroke-width="1.00"/>
<line x1="514.60" y1="291.30" x2="516.40" y2="291.30" stroke="#3c3c3c" stroke-width="1.00"/>
<line x1="682.50" y1="291.30" x2="680.70" y2="291.30" stroke="#3c3c3c" stroke-width="1.00"/>
<line x1="514.60" y1="285.10" x2="516.40" y2="285.10" stroke="#3c3c3c" stroke-width="1.00"/>
<line x1="682.50" y1="285.10" x2="680.70" y2="285.10" stroke="#3c3c3c" stroke-width="1.00"/>
<line x1="514.60" y1="278.90" x2="516.40" y2="278.90" stroke="#3c3c3c" stroke-width="1.00"/>
<line x1="682.50" y1="278.90" x2="680.70" y2="278.90" stroke="#3c3c3c" stroke-width="1.00"/>
<line x1="514.60" y1="272.70" x2="516.40" y2="272.70" stroke="#3c3c3c" stroke-width="1.00"/>
<line x1="682.50" y1="272.70" x2="680.70" y2="272.70" stroke="#3c3c3c" stroke-width="1.00"/>
<line x1="514.60" y1="266.50" x2="517.80" y2="266.50" stroke="#3c3c3c" stroke-width="1.00"/>
<line x1="682.50" y1="266.50" x2="679.30" y2="266.50" stroke="#3c3c3c" stroke-width="1.00"/>
<line x1="514.60" y1="260.30" x2="516.40" y2="260.30" stroke="#3c3c3c" stroke-width="1.00"/>
<line x1="682.50" y1="260.30" x2="680.70" y2="260.30" stroke="#3c3c3c" stroke-width="1.00"/>
<line x1="514.60" y1="254.10" x2="516.40" y2="254.10" stroke="#3c3c3c" stroke-width="1.00"/>
<line x1="682.50" y1="254.10" x2="680.70" y2="254.10" stroke="#3c3c3c" stroke-width="1.00"/>
<text x="510.10" y="331.90" font-size="10.00" text-anchor="end" fill="#111" stroke="#111" textLength="12.80" lengthAdjust="spacingAndGlyphs" >-50</text>
<text x="510.10" y="300.90" font-size="10.00" text-anchor="end" fill="#111" stroke="#111" textLength="4.90" lengthAdjust="spacingAndGlyphs" >0</text>
<text x="510.10" y="269.90" font-size="10.00" text-anchor="end" fill="#111" stroke="#111" textLength="9.80" lengthAdjust="spacingAndGlyphs" >50</text>
<text x="598.35" y="373.30" font-size="10.00" text-anchor="middle" fill="#111" stroke="#111" textLength="77.20" lengthAdjust="spacingAndGlyphs" >Wavelength (nm)</text>
<text x="0" y="0" font-size="10.00" text-anchor="middle" fill="#111" transform="translate(8.00,103.60) rotate(-90)"><tspan font-size="10" fill="#444">&#916;</tspan><tspan font-family="Liberation Serif" font-style="italic" font-size="12" fill="#444">&#949;</tspan></text>
<text x="0" y="0" font-size="10.60" text-anchor="middle" fill="#111" transform="translate(19.80,103.60) rotate(-90)" textLength="41.50" lengthAdjust="spacingAndGlyphs">(M<tspan font-size="6.3" dy="-3.9">&#8722;1</tspan><tspan dy="3.9">cm</tspan><tspan font-size="6.3" dy="-3.9">&#8722;1</tspan><tspan dy="3.9">)</tspan></text>
<text x="0" y="0" font-size="10.00" text-anchor="middle" fill="#111" transform="translate(246.00,104.30) rotate(-90)"><tspan font-size="10" fill="#444">&#916;</tspan><tspan font-family="Liberation Serif" font-style="italic" font-size="12" fill="#444">&#949;</tspan></text>
<text x="0" y="0" font-size="10.60" text-anchor="middle" fill="#111" transform="translate(258.00,104.30) rotate(-90)" textLength="41.50" lengthAdjust="spacingAndGlyphs">(M<tspan font-size="6.3" dy="-3.9">&#8722;1</tspan><tspan dy="3.9">cm</tspan><tspan font-size="6.3" dy="-3.9">&#8722;1</tspan><tspan dy="3.9">)</tspan></text>
<text x="0" y="0" font-size="10.00" text-anchor="middle" fill="#111" transform="translate(484.70,100.00) rotate(-90)"><tspan font-size="10" fill="#444">&#916;</tspan><tspan font-family="Liberation Serif" font-style="italic" font-size="12" fill="#444">&#949;</tspan></text>
<text x="0" y="0" font-size="10.60" text-anchor="middle" fill="#111" transform="translate(495.10,100.00) rotate(-90)" textLength="41.50" lengthAdjust="spacingAndGlyphs">(M<tspan font-size="6.3" dy="-3.9">&#8722;1</tspan><tspan dy="3.9">cm</tspan><tspan font-size="6.3" dy="-3.9">&#8722;1</tspan><tspan dy="3.9">)</tspan></text>
<text x="0" y="0" font-size="10.00" text-anchor="middle" fill="#111" transform="translate(231.00,31.50) rotate(-90)"><tspan font-family="Liberation Serif" font-style="italic" font-size="11.5" fill="#333">&#949;</tspan></text>
<text x="0" y="0" font-size="10.60" text-anchor="middle" fill="#111" transform="translate(242.50,32.40) rotate(-90)" textLength="42.00" lengthAdjust="spacingAndGlyphs">(M<tspan font-size="6.3" dy="-3.9">&#8722;1</tspan><tspan dy="3.9">cm</tspan><tspan font-size="6.3" dy="-3.9">&#8722;1</tspan><tspan dy="3.9">)</tspan></text>
<text x="227.10" y="8.30" font-size="9.9" fill="#111" stroke="#111">[<tspan fill="#444" stroke="#444">&#215;</tspan> 10<tspan font-size="6.3" dy="-2.4">4</tspan><tspan dy="2.4">]</tspan></text>
<text x="0" y="0" font-size="10.00" text-anchor="middle" fill="#111" transform="translate(468.00,31.50) rotate(-90)"><tspan font-family="Liberation Serif" font-style="italic" font-size="11.5" fill="#333">&#949;</tspan></text>
<text x="0" y="0" font-size="10.60" text-anchor="middle" fill="#111" transform="translate(479.50,32.40) rotate(-90)" textLength="42.00" lengthAdjust="spacingAndGlyphs">(M<tspan font-size="6.3" dy="-3.9">&#8722;1</tspan><tspan dy="3.9">cm</tspan><tspan font-size="6.3" dy="-3.9">&#8722;1</tspan><tspan dy="3.9">)</tspan></text>
<text x="464.10" y="8.30" font-size="9.9" fill="#111" stroke="#111">[<tspan fill="#444" stroke="#444">&#215;</tspan> 10<tspan font-size="6.3" dy="-2.4">4</tspan><tspan dy="2.4">]</tspan></text>
<text x="0" y="0" font-size="10.00" text-anchor="middle" fill="#111" transform="translate(703.10,31.50) rotate(-90)"><tspan font-family="Liberation Serif" font-style="italic" font-size="11.5" fill="#333">&#949;</tspan></text>
<text x="0" y="0" font-size="10.60" text-anchor="middle" fill="#111" transform="translate(714.60,32.40) rotate(-90)" textLength="42.00" lengthAdjust="spacingAndGlyphs">(M<tspan font-size="6.3" dy="-3.9">&#8722;1</tspan><tspan dy="3.9">cm</tspan><tspan font-size="6.3" dy="-3.9">&#8722;1</tspan><tspan dy="3.9">)</tspan></text>
<text x="699.20" y="8.30" font-size="9.9" fill="#111" stroke="#111">[<tspan fill="#444" stroke="#444">&#215;</tspan> 10<tspan font-size="6.3" dy="-2.4">4</tspan><tspan dy="2.4">]</tspan></text>
<text x="0" y="0" font-size="9.50" text-anchor="middle" fill="#111" transform="translate(19.30,296.30) rotate(-90)" textLength="64.60" lengthAdjust="spacingAndGlyphs">Ellipticity (a.u.)</text>
<text x="0" y="0" font-size="9.50" text-anchor="middle" fill="#111" transform="translate(254.30,296.00) rotate(-90)" textLength="64.60" lengthAdjust="spacingAndGlyphs">Ellipticity (a.u.)</text>
<text x="0" y="0" font-size="9.50" text-anchor="middle" fill="#111" transform="translate(488.50,297.60) rotate(-90)" textLength="64.60" lengthAdjust="spacingAndGlyphs">Ellipticity (a.u.)</text>
<text x="0" y="0" font-size="9.50" text-anchor="middle" fill="#111" transform="translate(235.30,220.70) rotate(-90)" textLength="47.20" lengthAdjust="spacingAndGlyphs">Abs. (a.u.)</text>
<text x="0" y="0" font-size="9.50" text-anchor="middle" fill="#111" transform="translate(470.30,220.70) rotate(-90)" textLength="47.20" lengthAdjust="spacingAndGlyphs">Abs. (a.u.)</text>
<text x="0" y="0" font-size="9.50" text-anchor="middle" fill="#111" transform="translate(713.40,220.70) rotate(-90)" textLength="47.20" lengthAdjust="spacingAndGlyphs">Abs. (a.u.)</text>
<text x="46.80" y="12.80" font-size="11.30" text-anchor="start" fill="#111" stroke="#111" >(a)</text>
<text x="281.40" y="12.80" font-size="11.30" text-anchor="start" fill="#111" stroke="#111" >(b)</text>
<text x="518.30" y="12.80" font-size="11.30" text-anchor="start" fill="#111" stroke="#111" >(c)</text>
<text x="46.80" y="205.40" font-size="11.30" text-anchor="start" fill="#111" stroke="#111" >(d)</text>
<text x="282.30" y="205.40" font-size="11.30" text-anchor="start" fill="#111" stroke="#111" >(e)</text>
<text x="518.00" y="205.40" font-size="11.30" text-anchor="start" fill="#111" stroke="#111" >(f)</text>
<text x="156.90" y="15.80" font-size="8.60" text-anchor="start" fill="#111" stroke="#111" textLength="36.40" lengthAdjust="spacingAndGlyphs" >Absorption</text>
<line x1="163.80" y1="19.90" x2="182.70" y2="19.90" stroke="#666" stroke-width="1.1"/>
<path d="M185.20,19.90 L181.90,18.00 L181.90,21.80 Z" fill="#111"/>
<text x="392.00" y="15.80" font-size="8.60" text-anchor="start" fill="#111" stroke="#111" textLength="36.40" lengthAdjust="spacingAndGlyphs" >Absorption</text>
<line x1="399.00" y1="20.00" x2="417.80" y2="20.00" stroke="#666" stroke-width="1.1"/>
<path d="M420.30,20.00 L417.00,18.10 L417.00,21.90 Z" fill="#111"/>
<text x="629.00" y="15.80" font-size="8.60" text-anchor="start" fill="#111" stroke="#111" textLength="36.40" lengthAdjust="spacingAndGlyphs" >Absorption</text>
<line x1="636.30" y1="20.00" x2="655.20" y2="20.00" stroke="#666" stroke-width="1.1"/>
<path d="M657.70,20.00 L654.40,18.10 L654.40,21.90 Z" fill="#111"/>
<text x="156.80" y="208.70" font-size="8.60" text-anchor="start" fill="#111" stroke="#111" textLength="36.40" lengthAdjust="spacingAndGlyphs" >Absorption</text>
<line x1="163.90" y1="212.80" x2="182.90" y2="212.80" stroke="#666" stroke-width="1.1"/>
<path d="M185.40,212.80 L182.10,210.90 L182.10,214.70 Z" fill="#111"/>
<text x="403.90" y="208.70" font-size="8.60" text-anchor="start" fill="#111" stroke="#111" textLength="36.40" lengthAdjust="spacingAndGlyphs" >Absorption</text>
<line x1="410.50" y1="212.80" x2="429.50" y2="212.80" stroke="#666" stroke-width="1.1"/>
<path d="M432.00,212.80 L428.70,210.90 L428.70,214.70 Z" fill="#111"/>
<text x="637.20" y="209.30" font-size="8.60" text-anchor="start" fill="#111" stroke="#111" textLength="36.40" lengthAdjust="spacingAndGlyphs" >Absorption</text>
<line x1="644.30" y1="213.50" x2="663.40" y2="213.50" stroke="#666" stroke-width="1.1"/>
<path d="M665.90,213.50 L662.60,211.60 L662.60,215.40 Z" fill="#111"/>
<text x="65.00" y="70.80" font-size="8.40" text-anchor="start" fill="#111" stroke="#111" textLength="10.90" lengthAdjust="spacingAndGlyphs" >CD</text>
<line x1="61.80" y1="74.60" x2="80.90" y2="74.60" stroke="#666" stroke-width="1.1"/>
<path d="M59.30,74.60 L62.60,72.70 L62.60,76.50 Z" fill="#111"/>
<text x="300.00" y="70.80" font-size="8.40" text-anchor="start" fill="#111" stroke="#111" textLength="10.90" lengthAdjust="spacingAndGlyphs" >CD</text>
<line x1="296.80" y1="74.60" x2="315.90" y2="74.60" stroke="#666" stroke-width="1.1"/>
<path d="M294.30,74.60 L297.60,72.70 L297.60,76.50 Z" fill="#111"/>
<text x="537.20" y="70.80" font-size="8.40" text-anchor="start" fill="#111" stroke="#111" textLength="10.90" lengthAdjust="spacingAndGlyphs" >CD</text>
<line x1="534.20" y1="74.70" x2="553.00" y2="74.70" stroke="#666" stroke-width="1.1"/>
<path d="M531.70,74.70 L535.00,72.80 L535.00,76.60 Z" fill="#111"/>
<text x="65.20" y="263.80" font-size="8.40" text-anchor="start" fill="#111" stroke="#111" textLength="10.90" lengthAdjust="spacingAndGlyphs" >CD</text>
<line x1="62.00" y1="267.70" x2="81.00" y2="267.70" stroke="#666" stroke-width="1.1"/>
<path d="M59.50,267.70 L62.80,265.80 L62.80,269.60 Z" fill="#111"/>
<text x="301.20" y="263.00" font-size="8.40" text-anchor="start" fill="#111" stroke="#111" textLength="10.90" lengthAdjust="spacingAndGlyphs" >CD</text>
<line x1="298.20" y1="267.50" x2="317.20" y2="267.50" stroke="#666" stroke-width="1.1"/>
<path d="M295.70,267.50 L299.00,265.60 L299.00,269.40 Z" fill="#111"/>
<text x="536.60" y="264.10" font-size="8.40" text-anchor="start" fill="#111" stroke="#111" textLength="10.90" lengthAdjust="spacingAndGlyphs" >CD</text>
<line x1="534.00" y1="268.20" x2="552.50" y2="268.20" stroke="#666" stroke-width="1.1"/>
<path d="M531.50,268.20 L534.80,266.30 L534.80,270.10 Z" fill="#111"/>
<line x1="127.00" y1="63.00" x2="145.00" y2="63.00" stroke="#ff4444" stroke-width="1.3"/>
<line x1="127.00" y1="72.20" x2="145.00" y2="72.20" stroke="#4444f4" stroke-width="1.3" stroke-dasharray="1.1 0.9"/>
<text x="148.50" y="65.50" font-size="7.20" fill="#111" stroke="#111" textLength="53.80" lengthAdjust="spacingAndGlyphs">(<tspan font-style="italic">R</tspan>)-<tspan font-weight="bold" fill="#2060c0" stroke="#2060c0">P5</tspan> in CHCl<tspan font-size="5" dy="1.8">3</tspan></text>
<text x="148.50" y="74.70" font-size="7.20" fill="#111" stroke="#111" textLength="53.80" lengthAdjust="spacingAndGlyphs">(<tspan font-style="italic">S</tspan>)-<tspan font-weight="bold" fill="#2060c0" stroke="#2060c0">P5</tspan> in CHCl<tspan font-size="5" dy="1.8">3</tspan></text>
<line x1="288.00" y1="136.90" x2="306.50" y2="136.90" stroke="#ff4444" stroke-width="1.3"/>
<line x1="288.00" y1="146.00" x2="306.50" y2="146.00" stroke="#4444f4" stroke-width="1.3" stroke-dasharray="1.1 0.9"/>
<text x="309.70" y="139.40" font-size="7.20" fill="#111" stroke="#111" textLength="54.10" lengthAdjust="spacingAndGlyphs">(<tspan font-style="italic">R</tspan>)-<tspan font-weight="bold" fill="#23962a" stroke="#23962a">P6</tspan> in CHCl<tspan font-size="5" dy="1.8">3</tspan></text>
<text x="309.70" y="148.50" font-size="7.20" fill="#111" stroke="#111" textLength="54.10" lengthAdjust="spacingAndGlyphs">(<tspan font-style="italic">S</tspan>)-<tspan font-weight="bold" fill="#23962a" stroke="#23962a">P6</tspan> in CHCl<tspan font-size="5" dy="1.8">3</tspan></text>
<line x1="526.50" y1="130.10" x2="544.30" y2="130.10" stroke="#ff4444" stroke-width="1.3"/>
<line x1="526.50" y1="139.20" x2="544.30" y2="139.20" stroke="#4444f4" stroke-width="1.3" stroke-dasharray="1.1 0.9"/>
<text x="548.20" y="132.60" font-size="7.20" fill="#111" stroke="#111" textLength="53.50" lengthAdjust="spacingAndGlyphs">(<tspan font-style="italic">R</tspan>)-<tspan font-weight="bold" fill="#dd4a12" stroke="#dd4a12">P7</tspan> in CHCl<tspan font-size="5" dy="1.8">3</tspan></text>
<text x="548.20" y="141.70" font-size="7.20" fill="#111" stroke="#111" textLength="53.50" lengthAdjust="spacingAndGlyphs">(<tspan font-style="italic">S</tspan>)-<tspan font-weight="bold" fill="#dd4a12" stroke="#dd4a12">P7</tspan> in CHCl<tspan font-size="5" dy="1.8">3</tspan></text>
<line x1="141.80" y1="258.50" x2="159.90" y2="258.50" stroke="#ff4444" stroke-width="1.3"/>
<line x1="141.80" y1="267.70" x2="159.90" y2="267.70" stroke="#4444f4" stroke-width="1.3" stroke-dasharray="1.1 0.9"/>
<text x="163.60" y="261.00" font-size="7.60" fill="#111" stroke="#111" textLength="35.70" lengthAdjust="spacingAndGlyphs">(<tspan font-style="italic">R</tspan>)-<tspan font-weight="bold" fill="#2060c0" stroke="#2060c0">P5</tspan> film</text>
<text x="163.60" y="270.20" font-size="7.60" fill="#111" stroke="#111" textLength="35.70" lengthAdjust="spacingAndGlyphs">(<tspan font-style="italic">S</tspan>)-<tspan font-weight="bold" fill="#2060c0" stroke="#2060c0">P5</tspan> film</text>
<line x1="288.10" y1="328.20" x2="306.40" y2="328.20" stroke="#ff4444" stroke-width="1.3"/>
<line x1="288.10" y1="337.60" x2="306.40" y2="337.60" stroke="#4444f4" stroke-width="1.3" stroke-dasharray="1.1 0.9"/>
<text x="309.80" y="330.70" font-size="7.60" fill="#111" stroke="#111" textLength="36.30" lengthAdjust="spacingAndGlyphs">(<tspan font-style="italic">R</tspan>)-<tspan font-weight="bold" fill="#23962a" stroke="#23962a">P6</tspan> film</text>
<text x="309.80" y="340.10" font-size="7.60" fill="#111" stroke="#111" textLength="36.30" lengthAdjust="spacingAndGlyphs">(<tspan font-style="italic">S</tspan>)-<tspan font-weight="bold" fill="#23962a" stroke="#23962a">P6</tspan> film</text>
<line x1="526.30" y1="324.80" x2="544.50" y2="324.80" stroke="#ff4444" stroke-width="1.3"/>
<line x1="526.30" y1="334.20" x2="544.50" y2="334.20" stroke="#4444f4" stroke-width="1.3" stroke-dasharray="1.1 0.9"/>
<text x="548.10" y="327.30" font-size="7.60" fill="#111" stroke="#111" textLength="35.90" lengthAdjust="spacingAndGlyphs">(<tspan font-style="italic">R</tspan>)-<tspan font-weight="bold" fill="#dd4a12" stroke="#dd4a12">P7</tspan> film</text>
<text x="548.10" y="336.70" font-size="7.60" fill="#111" stroke="#111" textLength="35.90" lengthAdjust="spacingAndGlyphs">(<tspan font-style="italic">S</tspan>)-<tspan font-weight="bold" fill="#dd4a12" stroke="#dd4a12">P7</tspan> film</text>
</svg>
</body></html>
